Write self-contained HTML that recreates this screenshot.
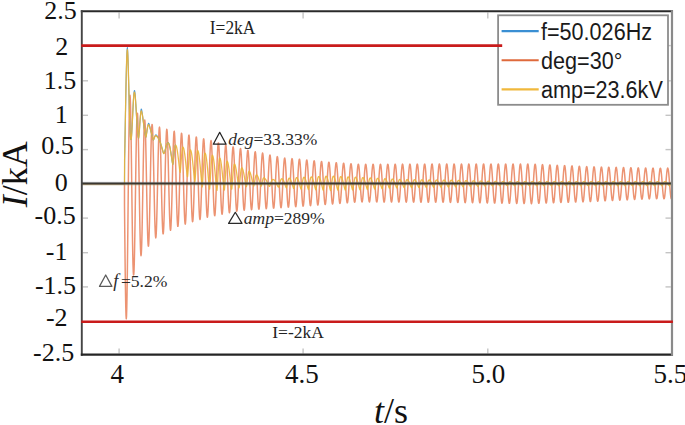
<!DOCTYPE html>
<html><head><meta charset="utf-8"><style>
html,body{margin:0;padding:0;background:#fff;}
body{width:685px;height:425px;overflow:hidden;}
svg{display:block;}
.serif{font-family:"Liberation Serif",serif;}
.sans{font-family:"Liberation Sans",sans-serif;}
</style></head><body>
<svg width="685" height="425" viewBox="0 0 685 425">
<rect width="685" height="425" fill="#fff"/>
<g stroke="#c4c4c4" stroke-width="1.4"><line x1="82.8" y1="45.6" x2="88" y2="45.6"/><line x1="665.5" y1="45.6" x2="670.8" y2="45.6"/><line x1="82.8" y1="80.8" x2="88" y2="80.8"/><line x1="665.5" y1="80.8" x2="670.8" y2="80.8"/><line x1="82.8" y1="115.3" x2="88" y2="115.3"/><line x1="665.5" y1="115.3" x2="670.8" y2="115.3"/><line x1="82.8" y1="149.6" x2="88" y2="149.6"/><line x1="665.5" y1="149.6" x2="670.8" y2="149.6"/><line x1="82.8" y1="183.6" x2="88" y2="183.6"/><line x1="665.5" y1="183.6" x2="670.8" y2="183.6"/><line x1="82.8" y1="218.1" x2="88" y2="218.1"/><line x1="665.5" y1="218.1" x2="670.8" y2="218.1"/><line x1="82.8" y1="252.7" x2="88" y2="252.7"/><line x1="665.5" y1="252.7" x2="670.8" y2="252.7"/><line x1="82.8" y1="286.9" x2="88" y2="286.9"/><line x1="665.5" y1="286.9" x2="670.8" y2="286.9"/><line x1="82.8" y1="321.7" x2="88" y2="321.7"/><line x1="665.5" y1="321.7" x2="670.8" y2="321.7"/><line x1="119.1" y1="348.6" x2="119.1" y2="353.6"/><line x1="119.1" y1="12.5" x2="119.1" y2="18.5"/><line x1="303.1" y1="348.6" x2="303.1" y2="353.6"/><line x1="303.1" y1="12.5" x2="303.1" y2="18.5"/><line x1="487.8" y1="348.6" x2="487.8" y2="353.6"/><line x1="487.8" y1="12.5" x2="487.8" y2="18.5"/></g>
<g fill="none" stroke-linejoin="round">
<path d="M82.50,183.65 L124.50,183.65 L124.50,205.29 L124.75,230.27 L125.00,253.84 L125.25,274.96 L125.50,292.70 L125.75,306.27 L126.00,315.10 L126.25,318.82 L126.50,316.36 L126.75,308.60 L127.00,296.18 L127.25,279.74 L127.50,260.05 L127.75,238.05 L128.00,214.74 L128.25,191.19 L128.50,168.43 L128.75,147.47 L129.00,129.19 L129.25,114.34 L129.50,103.52 L129.75,97.11 L130.00,95.29 L130.25,98.17 L130.50,105.36 L130.75,116.45 L131.00,130.81 L131.25,147.71 L131.50,166.32 L131.75,185.73 L132.00,205.02 L132.25,223.30 L132.50,239.76 L132.75,253.66 L133.00,264.41 L133.25,271.58 L133.50,274.92 L133.75,274.50 L134.00,270.90 L134.25,263.70 L134.50,253.26 L134.75,240.10 L135.00,224.87 L135.25,208.28 L135.50,191.10 L135.75,174.11 L136.00,158.08 L136.25,143.72 L136.50,131.65 L136.75,122.37 L137.00,116.26 L137.25,113.17 L137.50,113.53 L137.75,117.29 L138.00,124.21 L138.25,133.95 L138.50,146.01 L138.75,159.81 L139.00,174.71 L139.25,190.00 L139.50,204.98 L139.75,218.96 L140.00,231.32 L140.25,241.51 L140.50,249.09 L140.75,253.81 L141.00,255.69 L141.25,254.42 L141.50,250.07 L141.75,242.86 L142.00,233.15 L142.25,221.38 L142.50,208.11 L142.75,193.94 L143.00,179.52 L143.25,165.50 L143.50,152.52 L143.75,141.14 L144.00,131.87 L144.25,125.11 L144.50,121.13 L144.75,120.10 L145.00,121.96 L145.25,126.65 L145.50,133.96 L145.75,143.53 L146.00,154.92 L146.25,167.60 L146.50,180.97 L146.75,194.42 L147.00,207.35 L147.25,219.16 L147.50,229.33 L147.75,237.40 L148.00,243.04 L148.25,246.00 L148.50,246.15 L148.75,243.50 L149.00,238.20 L149.25,230.49 L149.50,220.74 L149.75,209.40 L150.00,197.00 L150.25,184.09 L150.50,171.26 L150.75,159.09 L151.00,148.11 L151.25,138.81 L151.50,131.60 L151.75,126.78 L152.00,124.53 L152.25,124.91 L152.50,127.91 L152.75,133.38 L153.00,141.05 L153.25,150.55 L153.50,161.44 L153.75,173.20 L154.00,185.30 L154.25,197.19 L154.50,208.31 L154.75,218.18 L155.00,226.35 L155.25,232.48 L155.50,236.42 L155.75,237.88 L156.00,236.80 L156.25,233.23 L156.50,227.35 L156.75,219.43 L157.00,209.84 L157.25,199.01 L157.50,187.44 L157.75,175.66 L158.00,164.20 L158.25,153.57 L158.50,144.25 L158.75,136.65 L159.00,131.12 L159.25,127.90 L159.50,127.10 L159.75,128.76 L160.00,132.79 L160.25,139.01 L160.50,147.13 L160.75,156.77 L161.00,167.48 L161.25,178.78 L161.50,190.16 L161.75,201.09 L162.00,211.08 L162.25,219.69 L162.50,226.52 L162.75,231.28 L163.00,233.75 L163.25,233.84 L163.50,231.53 L163.75,226.96 L164.00,220.33 L164.25,211.94 L164.50,202.19 L164.75,191.51 L165.00,180.40 L165.25,169.35 L165.50,158.87 L165.75,149.42 L166.00,141.43 L166.25,135.25 L166.50,131.15 L166.75,129.31 L167.00,129.79 L167.25,132.58 L167.50,137.53 L167.75,144.41 L168.00,152.90 L168.25,162.61 L168.50,173.09 L168.75,183.87 L169.00,194.45 L169.25,204.35 L169.50,213.14 L169.75,220.40 L170.00,225.83 L170.25,229.18 L170.50,230.31 L170.75,229.16 L171.00,225.81 L171.25,220.41 L171.50,213.21 L171.75,204.55 L172.00,194.81 L172.25,184.45 L172.50,173.93 L172.75,163.73 L173.00,154.30 L173.25,146.07 L173.50,139.41 L173.75,134.60 L174.00,131.87 L174.25,131.30 L174.50,132.94 L174.75,136.68 L175.00,142.36 L175.25,149.70 L175.50,158.38 L175.75,167.97 L176.00,178.06 L176.25,188.17 L176.50,197.86 L176.75,206.67 L177.00,214.23 L177.25,220.17 L177.50,224.26 L177.75,226.29 L178.00,226.20 L178.25,224.03 L178.50,219.85 L178.75,213.85 L179.00,206.31 L179.25,197.57 L179.50,188.02 L179.75,178.11 L180.00,168.29 L180.25,158.99 L180.50,150.64 L180.75,143.61 L181.00,138.21 L181.25,134.69 L181.50,133.19 L181.75,133.78 L182.00,136.43 L182.25,141.00 L182.50,147.29 L182.75,155.00 L183.00,163.78 L183.25,173.24 L183.50,182.93 L183.75,192.42 L184.00,201.28 L184.25,209.12 L184.50,215.58 L184.75,220.36 L185.00,223.27 L185.25,224.17 L185.50,223.04 L185.75,219.92 L186.00,214.96 L186.25,208.40 L186.50,200.53 L186.75,191.72 L187.00,182.37 L187.25,172.90 L187.50,163.74 L187.75,155.30 L188.00,147.97 L188.25,142.06 L188.50,137.85 L188.75,135.51 L189.00,135.15 L189.25,136.78 L189.50,140.31 L189.75,145.58 L190.00,152.35 L190.25,160.30 L190.50,169.07 L190.75,178.26 L191.00,187.45 L191.25,196.23 L191.50,204.20 L191.75,211.00 L192.00,216.33 L192.25,219.95 L192.50,221.71 L192.75,221.52 L193.00,219.41 L193.25,215.47 L193.50,209.89 L193.75,202.92 L194.00,194.89 L194.25,186.17 L194.50,177.14 L194.75,168.22 L195.00,159.80 L195.25,152.28 L195.50,145.99 L195.75,141.19 L196.00,138.12 L196.25,136.90 L196.50,137.58 L196.75,140.11 L197.00,144.39 L197.25,150.21 L197.50,157.30 L197.75,165.34 L198.00,173.96 L198.25,182.76 L198.50,191.35 L198.75,199.35 L199.00,206.38 L199.25,212.13 L199.50,216.35 L199.75,218.86 L200.00,219.54 L200.25,218.37 L200.50,215.40 L200.75,210.79 L201.00,204.73 L201.25,197.52 L201.50,189.48 L201.75,180.97 L202.00,172.39 L202.25,164.11 L202.50,156.52 L202.75,149.96 L203.00,144.71 L203.25,141.01 L203.50,139.03 L203.75,138.84 L204.00,140.44 L204.25,143.77 L204.50,148.65 L204.75,154.87 L205.00,162.13 L205.25,170.11 L205.50,178.44 L205.75,186.75 L206.00,194.64 L206.25,201.78 L206.50,207.84 L206.75,212.56 L207.00,215.74 L207.25,217.22 L207.50,216.94 L207.75,214.93 L208.00,211.27 L208.25,206.14 L208.50,199.77 L208.75,192.47 L209.00,184.55 L209.25,176.39 L209.50,168.35 L209.75,160.79 L210.00,154.06 L210.25,148.46 L210.50,144.23 L210.75,141.58 L211.00,140.60 L211.25,141.35 L211.50,143.78 L211.75,147.77 L212.00,153.15 L212.25,159.67 L212.50,167.02 L212.75,174.88 L213.00,182.88 L213.25,190.66 L213.50,197.87 L213.75,204.19 L214.00,209.34 L214.25,213.08 L214.50,215.25 L214.75,215.77 L215.00,214.60 L215.25,211.82 L215.50,207.56 L215.75,202.00 L216.00,195.41 L216.25,188.10 L216.50,180.38 L216.75,172.63 L217.00,165.17 L217.25,158.37 L217.50,152.51 L217.75,147.86 L218.00,144.63 L218.25,142.97 L218.50,142.93 L218.75,144.52 L219.00,147.66 L219.25,152.20 L219.50,157.94 L219.75,164.60 L220.00,171.89 L220.25,179.48 L220.50,187.01 L220.75,194.16 L221.00,200.60 L221.25,206.03 L221.50,210.23 L221.75,213.00 L222.00,214.22 L222.25,213.85 L222.50,211.91 L222.75,208.49 L223.00,203.75 L223.25,197.92 L223.50,191.25 L223.75,184.07 L224.00,176.68 L224.25,169.44 L224.50,162.66 L224.75,156.66 L225.00,151.69 L225.25,147.99 L225.50,145.71 L225.75,144.96 L226.00,145.76 L226.25,148.08 L226.50,151.79 L226.75,156.73 L227.00,162.68 L227.25,169.35 L227.50,176.44 L227.75,183.64 L228.00,190.62 L228.25,197.07 L228.50,202.69 L228.75,207.23 L229.00,210.50 L229.25,212.35 L229.50,212.70 L229.75,211.54 L230.00,208.93 L230.25,204.99 L230.50,199.90 L230.75,193.90 L231.00,187.27 L231.25,180.30 L231.50,173.31 L231.75,166.62 L232.00,160.54 L232.25,155.33 L232.50,151.22 L232.75,148.40 L233.00,147.00 L233.25,147.07 L233.50,148.60 L233.75,151.52 L234.00,155.69 L234.25,160.91 L234.50,166.96 L234.75,173.55 L235.00,180.39 L235.25,187.16 L235.50,193.56 L235.75,199.30 L236.00,204.12 L236.25,207.81 L236.50,210.21 L236.75,211.21 L237.00,210.76 L237.25,208.90 L237.50,205.72 L237.75,201.36 L238.00,196.02 L238.25,189.95 L238.50,183.43 L238.75,176.75 L239.00,170.21 L239.25,164.11 L239.50,158.73 L239.75,154.31 L240.00,151.04 L240.25,149.06 L240.50,148.47 L240.75,149.28 L241.00,151.46 L241.25,154.90 L241.50,159.46 L241.75,164.91 L242.00,171.01 L242.25,177.50 L242.50,184.06 L242.75,190.41 L243.00,196.25 L243.25,201.34 L243.50,205.43 L243.75,208.35 L244.00,209.96 L244.25,210.21 L244.50,209.09 L244.75,206.64 L245.00,202.98 L245.25,198.29 L245.50,192.78 L245.75,186.71 L246.00,180.34 L246.25,173.97 L246.50,167.89 L246.75,162.38 L247.00,157.68 L247.25,154.00 L247.50,151.52 L247.75,150.33 L248.00,150.49 L248.25,152.00 L248.50,154.78 L248.75,158.69 L249.00,163.58 L249.25,169.19 L249.50,175.29 L249.75,181.61 L250.00,187.85 L250.25,193.73 L250.50,198.99 L250.75,203.40 L251.00,206.75 L251.25,208.91 L251.50,209.76 L251.75,209.29 L252.00,207.51 L252.25,204.50 L252.50,200.42 L252.75,195.44 L253.00,189.80 L253.25,183.74 L253.50,177.56 L253.75,171.52 L254.00,165.91 L254.25,160.97 L254.50,156.93 L254.75,153.96 L255.00,152.22 L255.25,151.76 L255.50,152.61 L255.75,154.72 L256.00,158.01 L256.25,162.30 L256.50,167.43 L256.75,173.14 L257.00,179.18 L257.25,185.28 L257.50,191.17 L257.75,196.56 L258.00,201.24 L258.25,204.98 L258.50,207.61 L258.75,209.03 L259.00,209.17 L259.25,208.02 L259.50,205.65 L259.75,202.16 L260.00,197.72 L260.25,192.52 L260.50,186.81 L260.75,180.84 L261.00,174.89 L261.25,169.23 L261.50,164.11 L261.75,159.76 L262.00,156.39 L262.25,154.13 L262.50,153.10 L262.75,153.33 L263.00,154.81 L263.25,157.48 L263.50,161.21 L263.75,165.83 L264.00,171.13 L264.25,176.89 L264.50,182.82 L264.75,188.65 L265.00,194.13 L265.25,199.01 L265.50,203.07 L265.75,206.12 L266.00,208.05 L266.25,208.76 L266.50,208.22 L266.75,206.48 L267.00,203.60 L267.25,199.74 L267.50,195.06 L267.75,189.78 L268.00,184.15 L268.25,178.41 L268.50,172.84 L268.75,167.69 L269.00,163.18 L269.25,159.53 L269.50,156.89 L269.75,155.38 L270.00,155.07 L270.25,155.97 L270.50,158.04 L270.75,161.17 L271.00,165.23 L271.25,170.01 L271.50,175.32 L271.75,180.91 L272.00,186.54 L272.25,191.94 L272.50,196.88 L272.75,201.13 L273.00,204.51 L273.25,206.86 L273.50,208.08 L273.75,208.12 L274.00,206.98 L274.25,204.72 L274.50,201.44 L274.75,197.29 L275.00,192.47 L275.25,187.19 L275.50,181.70 L275.75,176.25 L276.00,171.08 L276.25,166.42 L276.50,162.49 L276.75,159.47 L277.00,157.48 L277.25,156.63 L277.50,156.93 L277.75,158.38 L278.00,160.92 L278.25,164.41 L278.50,168.71 L278.75,173.61 L279.00,178.90 L279.25,184.34 L279.50,189.67 L279.75,194.66 L280.00,199.09 L280.25,202.75 L280.50,205.48 L280.75,207.17 L281.00,207.74 L281.25,207.17 L281.50,205.48 L281.75,202.76 L282.00,199.14 L282.25,194.77 L282.50,189.87 L282.75,184.65 L283.00,179.36 L283.25,174.23 L283.50,169.49 L283.75,165.37 L284.00,162.04 L284.25,159.65 L284.50,158.32 L284.75,158.10 L285.00,158.99 L285.25,160.93 L285.50,163.85 L285.75,167.63 L286.00,172.08 L286.25,177.02 L286.50,182.21 L286.75,187.42 L287.00,192.41 L287.25,196.96 L287.50,200.86 L287.75,203.94 L288.00,206.06 L288.25,207.12 L288.50,207.07 L288.75,205.93 L289.00,203.74 L289.25,200.60 L289.50,196.67 L289.75,192.11 L290.00,187.13 L290.25,181.97 L290.50,176.85 L290.75,172.00 L291.00,167.65 L291.25,164.00 L291.50,161.19 L291.75,159.37 L292.00,158.62 L292.25,158.95 L292.50,160.37 L292.75,162.80 L293.00,166.13 L293.25,170.21 L293.50,174.85 L293.75,179.85 L294.00,184.97 L294.25,189.99 L294.50,194.67 L294.75,198.81 L295.00,202.21 L295.25,204.74 L295.50,206.26 L295.75,206.72 L296.00,206.10 L296.25,204.42 L296.50,201.76 L296.75,198.25 L297.00,194.05 L297.25,189.34 L297.50,184.34 L297.75,179.28 L298.00,174.38 L298.25,169.87 L298.50,165.96 L298.75,162.81 L299.00,160.57 L299.25,159.34 L299.50,159.17 L299.75,160.07 L300.00,162.00 L300.25,164.88 L300.50,168.56 L300.75,172.88 L301.00,177.64 L301.25,182.62 L301.50,187.60 L301.75,192.36 L302.00,196.68 L302.25,200.36 L302.50,203.23 L302.75,205.18 L303.00,206.12 L303.25,206.00 L303.50,204.83 L303.75,202.67 L304.00,199.62 L304.25,195.82 L304.50,191.43 L304.75,186.67 L305.00,181.75 L305.25,176.89 L305.50,172.31 L305.75,168.22 L306.00,164.80 L306.25,162.21 L306.50,160.56 L306.75,159.93 L307.00,160.34 L307.25,161.77 L307.50,164.15 L307.75,167.38 L308.00,171.31 L308.25,175.76 L308.50,180.52 L308.75,185.38 L309.00,190.12 L309.25,194.53 L309.50,198.41 L309.75,201.58 L310.00,203.91 L310.25,205.28 L310.50,205.64 L310.75,204.97 L311.00,203.31 L311.25,200.74 L311.50,197.37 L311.75,193.35 L312.00,188.88 L312.25,184.16 L312.50,179.39 L312.75,174.79 L313.00,170.58 L313.25,166.95 L313.50,164.05 L313.75,162.01 L314.00,160.94 L314.25,160.86 L314.50,161.80 L314.75,163.69 L315.00,166.46 L315.25,169.97 L315.50,174.07 L315.75,178.56 L316.00,183.26 L316.25,187.94 L316.50,192.39 L316.75,196.41 L317.00,199.82 L317.25,202.47 L317.50,204.24 L317.75,205.05 L318.00,204.86 L318.25,203.69 L318.50,201.59 L318.75,198.66 L319.00,195.03 L319.25,190.87 L319.50,186.37 L319.75,181.73 L320.00,177.16 L320.25,172.87 L320.50,169.05 L320.75,165.88 L321.00,163.49 L321.25,162.00 L321.50,161.47 L321.75,161.92 L322.00,163.33 L322.25,165.64 L322.50,168.73 L322.75,172.47 L323.00,176.69 L323.25,181.19 L323.50,185.77 L323.75,190.23 L324.00,194.35 L324.25,197.96 L324.50,200.90 L324.75,203.03 L325.00,204.25 L325.25,204.52 L325.50,203.82 L325.75,202.19 L326.00,199.70 L326.25,196.47 L326.50,192.65 L326.75,188.40 L327.00,183.93 L327.25,179.43 L327.50,175.11 L327.75,171.16 L328.00,167.77 L328.25,165.08 L328.50,163.22 L328.75,162.27 L329.00,162.27 L329.25,163.21 L329.50,165.06 L329.75,167.72 L330.00,171.08 L330.25,174.98 L330.50,179.25 L330.75,183.69 L331.00,188.10 L331.25,192.28 L331.50,196.04 L331.75,199.22 L332.00,201.66 L332.25,203.27 L332.50,203.97 L332.75,203.72 L333.00,202.55 L333.25,200.50 L333.50,197.68 L333.75,194.20 L334.00,190.23 L334.25,185.96 L334.50,181.56 L334.75,177.25 L335.00,173.21 L335.25,169.63 L335.50,166.68 L335.75,164.47 L336.00,163.12 L336.25,162.68 L336.50,163.17 L336.75,164.57 L337.00,166.80 L337.25,169.78 L337.50,173.35 L337.75,177.37 L338.00,181.64 L338.25,185.98 L338.50,190.18 L338.75,194.06 L339.00,197.44 L339.25,200.16 L339.50,202.12 L339.75,203.22 L340.00,203.40 L340.25,202.68 L340.50,201.07 L340.75,198.65 L341.00,195.54 L341.25,191.88 L341.50,187.83 L341.75,183.57 L342.00,179.31 L342.25,175.23 L342.50,171.51 L342.75,168.33 L343.00,165.83 L343.25,164.12 L343.50,163.28 L343.75,163.33 L344.00,164.29 L344.25,166.10 L344.50,168.68 L344.75,171.91 L345.00,175.64 L345.25,179.71 L345.50,183.93 L345.75,188.10 L346.00,192.05 L346.25,195.59 L346.50,198.55 L346.75,200.82 L347.00,202.28 L347.25,202.88 L347.50,202.58 L347.75,201.41 L348.00,199.41 L348.25,196.68 L348.50,193.34 L348.75,189.55 L349.00,185.47 L349.25,181.30 L349.50,177.22 L349.75,173.42 L350.00,170.07 L350.25,167.31 L350.50,165.28 L350.75,164.06 L351.00,163.70 L351.25,164.23 L351.50,165.61 L351.75,167.79 L352.00,170.66 L352.25,174.08 L352.50,177.91 L352.75,181.97 L353.00,186.08 L353.25,190.05 L353.50,193.70 L353.75,196.86 L354.00,199.40 L354.25,201.19 L354.50,202.17 L354.75,202.28 L355.00,201.53 L355.25,199.95 L355.50,197.61 L355.75,194.62 L356.00,191.11 L356.25,187.25 L356.50,183.22 L356.75,179.18 L357.00,175.34 L357.25,171.85 L357.50,168.88 L357.75,166.57 L358.00,165.00 L358.25,164.26 L358.50,164.38 L358.75,165.35 L359.00,167.12 L359.25,169.61 L359.50,172.70 L359.75,176.27 L360.00,180.14 L360.25,184.13 L360.50,188.09 L360.75,191.82 L361.00,195.15 L361.25,197.94 L361.50,200.07 L361.75,201.42 L362.00,201.95 L362.25,201.62 L362.50,200.46 L362.75,198.51 L363.00,195.86 L363.25,192.64 L363.50,188.98 L363.75,185.06 L364.00,181.06 L364.25,177.14 L364.50,173.50 L364.75,170.29 L365.00,167.67 L365.25,165.74 L365.50,164.60 L365.75,164.31 L366.00,164.86 L366.25,166.24 L366.50,168.39 L366.75,171.21 L367.00,174.56 L367.25,178.31 L367.50,182.27 L367.75,186.28 L368.00,190.14 L368.25,193.68 L368.50,196.75 L368.75,199.20 L369.00,200.92 L369.25,201.84 L369.50,201.91 L369.75,201.13 L370.00,199.53 L370.25,197.19 L370.50,194.21 L370.75,190.73 L371.00,186.91 L371.25,182.92 L371.50,178.93 L371.75,175.13 L372.00,171.70 L372.25,168.78 L372.50,166.51 L372.75,165.00 L373.00,164.31 L373.25,164.47 L373.50,165.47 L373.75,167.28 L374.00,169.80 L374.25,172.93 L374.50,176.52 L374.75,180.41 L375.00,184.43 L375.25,188.38 L375.50,192.10 L375.75,195.42 L376.00,198.17 L376.25,200.25 L376.50,201.55 L376.75,202.01 L377.00,201.63 L377.25,200.40 L377.50,198.39 L377.75,195.69 L378.00,192.42 L378.25,188.73 L378.50,184.78 L378.75,180.76 L379.00,176.85 L379.25,173.22 L379.50,170.04 L379.75,167.45 L380.00,165.57 L380.25,164.49 L380.50,164.25 L380.75,164.87 L381.00,166.32 L381.25,168.52 L381.50,171.39 L381.75,174.79 L382.00,178.57 L382.25,182.56 L382.50,186.57 L382.75,190.43 L383.00,193.96 L383.25,196.99 L383.50,199.40 L383.75,201.08 L384.00,201.94 L384.25,201.94 L384.50,201.10 L384.75,199.44 L385.00,197.04 L385.25,194.02 L385.50,190.49 L385.75,186.64 L386.00,182.62 L386.25,178.63 L386.50,174.84 L386.75,171.43 L387.00,168.55 L387.25,166.32 L387.50,164.86 L387.75,164.23 L388.00,164.45 L388.25,165.52 L388.50,167.38 L388.75,169.97 L389.00,173.14 L389.25,176.77 L389.50,180.69 L389.75,184.72 L390.00,188.68 L390.25,192.39 L390.50,195.68 L390.75,198.40 L391.00,200.43 L391.25,201.67 L391.50,202.08 L391.75,201.63 L392.00,200.34 L392.25,198.27 L392.50,195.51 L392.75,192.19 L393.00,188.47 L393.25,184.50 L393.50,180.47 L393.75,176.55 L394.00,172.94 L394.25,169.79 L394.50,167.24 L394.75,165.41 L395.00,164.38 L395.25,164.21 L395.50,164.89 L395.75,166.40 L396.00,168.66 L396.25,171.58 L396.50,175.03 L396.75,178.84 L397.00,182.85 L397.25,186.87 L397.50,190.72 L397.75,194.23 L398.00,197.24 L398.25,199.60 L398.50,201.23 L398.75,202.03 L399.00,201.97 L399.25,201.07 L399.50,199.35 L399.75,196.89 L400.00,193.81 L400.25,190.25 L400.50,186.36 L400.75,182.33 L401.00,178.33 L401.25,174.55 L401.50,171.16 L401.75,168.31 L402.00,166.13 L402.25,164.73 L402.50,164.15 L402.75,164.44 L403.00,165.57 L403.25,167.50 L403.50,170.13 L403.75,173.36 L404.00,177.03 L404.25,180.97 L404.50,185.02 L404.75,188.98 L405.00,192.67 L405.25,195.94 L405.50,198.62 L405.75,200.60 L406.00,201.79 L406.25,202.14 L406.50,201.62 L406.75,200.27 L407.00,198.14 L407.25,195.33 L407.50,191.97 L407.75,188.20 L408.00,184.21 L408.25,180.17 L408.50,176.26 L408.75,172.66 L409.00,169.54 L409.25,167.03 L409.50,165.25 L409.75,164.28 L410.00,164.16 L410.25,164.91 L410.50,166.48 L410.75,168.80 L411.00,171.78 L411.25,175.27 L411.50,179.11 L411.75,183.14 L412.00,187.17 L412.25,191.01 L412.50,194.50 L412.75,197.48 L413.00,199.80 L413.25,201.37 L413.50,202.12 L413.75,202.00 L414.00,201.03 L414.25,199.25 L414.50,196.73 L414.75,193.60 L415.00,190.00 L415.25,186.09 L415.50,182.04 L415.75,178.04 L416.00,174.27 L416.25,170.90 L416.50,168.08 L416.75,165.95 L417.00,164.59 L417.25,164.08 L417.50,164.43 L417.75,165.62 L418.00,167.61 L418.25,170.30 L418.50,173.58 L418.75,177.28 L419.00,181.26 L419.25,185.31 L419.50,189.27 L419.75,192.96 L420.00,196.19 L420.25,198.84 L420.50,200.77 L420.75,201.91 L421.00,202.19 L421.25,201.61 L421.50,200.20 L421.75,198.01 L422.00,195.15 L422.25,191.74 L422.50,187.94 L422.75,183.92 L423.00,179.87 L423.25,175.96 L423.50,172.38 L423.75,169.29 L424.00,166.82 L424.25,165.09 L424.50,164.18 L424.75,164.13 L425.00,164.93 L425.25,166.57 L425.50,168.95 L425.75,171.98 L426.00,175.51 L426.25,179.39 L426.50,183.43 L426.75,187.47 L427.00,191.31 L427.25,194.78 L427.50,197.72 L427.75,200.00 L428.00,201.52 L428.25,202.20 L428.50,202.02 L428.75,200.99 L429.00,199.14 L429.25,196.57 L429.50,193.39 L429.75,189.75 L430.00,185.81 L430.25,181.74 L430.50,177.74 L430.75,173.98 L431.00,170.63 L431.25,167.85 L431.50,165.77 L431.75,164.47 L432.00,164.01 L432.25,164.42 L432.50,165.68 L432.75,167.73 L433.00,170.48 L433.25,173.80 L433.50,177.55 L433.75,181.54 L434.00,185.61 L434.25,189.57 L434.50,193.24 L434.75,196.45 L435.00,199.06 L435.25,200.94 L435.50,202.02 L435.75,202.24 L436.00,201.60 L436.25,200.12 L436.50,197.87 L436.75,194.96 L437.00,191.50 L437.25,187.67 L437.50,183.63 L437.75,179.57 L438.00,175.67 L438.25,172.10 L438.50,169.04 L438.75,166.61 L439.00,164.94 L439.25,164.08 L439.50,164.09 L439.75,164.96 L440.00,166.66 L440.25,169.10 L440.50,172.18 L440.75,175.76 L441.00,179.67 L441.25,183.74 L441.50,187.78 L441.75,191.62 L442.00,195.07 L442.25,197.98 L442.50,200.22 L442.75,201.68 L443.00,202.31 L443.25,202.07 L443.50,200.98 L443.75,199.07 L444.00,196.45 L444.25,193.22 L444.50,189.53 L444.75,185.56 L445.00,181.48 L445.25,177.47 L445.50,173.72 L445.75,170.40 L446.00,167.66 L446.25,165.62 L446.50,164.37 L446.75,163.98 L447.00,164.45 L447.25,165.78 L447.50,167.89 L447.75,170.70 L448.00,174.08 L448.25,177.86 L448.50,181.90 L448.75,185.99 L449.00,189.95 L449.25,193.61 L449.50,196.80 L449.75,199.37 L450.00,201.21 L450.25,202.24 L450.50,202.41 L450.75,201.70 L451.00,200.16 L451.25,197.85 L451.50,194.87 L451.75,191.37 L452.00,187.50 L452.25,183.43 L452.50,179.35 L452.75,175.45 L453.00,171.90 L453.25,168.86 L453.50,166.48 L453.75,164.85 L454.00,164.05 L454.25,164.13 L454.50,165.07 L454.75,166.83 L455.00,169.34 L455.25,172.47 L455.50,176.10 L455.75,180.05 L456.00,184.15 L456.25,188.21 L456.50,192.04 L456.75,195.48 L457.00,198.36 L457.25,200.56 L457.50,201.98 L457.75,202.55 L458.00,202.25 L458.25,201.08 L458.50,199.11 L458.75,196.42 L459.00,193.14 L459.25,189.40 L459.50,185.39 L459.75,181.29 L460.00,177.27 L460.25,173.52 L460.50,170.22 L460.75,167.51 L461.00,165.51 L461.25,164.32 L461.50,163.98 L461.75,164.52 L462.00,165.92 L462.25,168.10 L462.50,170.97 L462.75,174.40 L463.00,178.23 L463.25,182.30 L463.50,186.41 L463.75,190.38 L464.00,194.03 L464.25,197.20 L464.50,199.74 L464.75,201.54 L465.00,202.51 L465.25,202.61 L465.50,201.84 L465.75,200.23 L466.00,197.85 L466.25,194.82 L466.50,191.26 L466.75,187.35 L467.00,183.25 L467.25,179.15 L467.50,175.25 L467.75,171.71 L468.00,168.70 L468.25,166.35 L468.50,164.77 L468.75,164.03 L469.00,164.17 L469.25,165.17 L469.50,167.00 L469.75,169.58 L470.00,172.77 L470.25,176.45 L470.50,180.44 L470.75,184.57 L471.00,188.64 L471.25,192.47 L471.50,195.89 L471.75,198.75 L472.00,200.91 L472.25,202.27 L472.50,202.78 L472.75,202.41 L473.00,201.18 L473.25,199.15 L473.50,196.39 L473.75,193.05 L474.00,189.27 L474.25,185.22 L474.50,181.09 L474.75,177.06 L475.00,173.32 L475.25,170.04 L475.50,167.36 L475.75,165.40 L476.00,164.26 L476.25,163.99 L476.50,164.60 L476.75,166.06 L477.00,168.31 L477.25,171.24 L477.50,174.73 L477.75,178.60 L478.00,182.70 L478.25,186.83 L478.50,190.81 L478.75,194.46 L479.00,197.60 L479.25,200.11 L479.50,201.85 L479.75,202.77 L480.00,202.81 L480.25,201.97 L480.50,200.29 L480.75,197.85 L481.00,194.75 L481.25,191.15 L481.50,187.19 L481.75,183.06 L482.00,178.95 L482.25,175.04 L482.50,171.52 L482.75,168.53 L483.00,166.22 L483.25,164.69 L483.50,164.01 L483.75,164.21 L484.00,165.29 L484.25,167.18 L484.50,169.82 L484.75,173.08 L485.00,176.80 L485.25,180.83 L485.50,184.99 L485.75,189.07 L486.00,192.90 L486.25,196.31 L486.50,199.13 L486.75,201.25 L487.00,202.56 L487.25,203.01 L487.50,202.58 L487.75,201.28 L488.00,199.17 L488.25,196.36 L488.50,192.96 L488.75,189.13 L489.00,185.05 L489.25,180.89 L489.50,176.86 L489.75,173.12 L490.00,169.86 L490.25,167.21 L490.50,165.30 L490.75,164.22 L491.00,164.01 L491.25,164.68 L491.50,166.21 L491.75,168.52 L492.00,171.52 L492.25,175.06 L492.50,178.98 L492.75,183.11 L493.00,187.26 L493.25,191.24 L493.50,194.88 L493.75,198.00 L494.00,200.47 L494.25,202.17 L494.50,203.03 L494.75,203.00 L495.00,202.10 L495.25,200.35 L495.50,197.84 L495.75,194.69 L496.00,191.03 L496.25,187.03 L496.50,182.87 L496.75,178.75 L497.00,174.84 L497.25,171.32 L497.50,168.36 L497.75,166.09 L498.00,164.61 L498.25,163.99 L498.50,164.26 L498.75,165.40 L499.00,167.37 L499.25,170.07 L499.50,173.38 L499.75,177.16 L500.00,181.23 L500.25,185.41 L500.50,189.50 L500.75,193.33 L501.00,196.72 L501.25,199.51 L501.50,201.59 L501.75,202.85 L502.00,203.24 L502.25,202.74 L502.50,201.37 L502.75,199.20 L503.00,196.32 L503.25,192.86 L503.50,188.99 L503.75,184.87 L504.00,180.69 L504.25,176.65 L504.50,172.92 L504.75,169.68 L505.00,167.06 L505.25,165.20 L505.50,164.17 L505.75,164.03 L506.00,164.77 L506.25,166.37 L506.50,168.75 L506.75,171.80 L507.00,175.39 L507.25,179.36 L507.50,183.52 L507.75,187.69 L508.00,191.68 L508.25,195.30 L508.50,198.40 L508.75,200.83 L509.00,202.48 L509.25,203.28 L509.50,203.19 L509.75,202.22 L510.00,200.40 L510.25,197.83 L510.50,194.61 L510.75,190.90 L511.00,186.86 L511.25,182.68 L511.50,178.54 L511.75,174.63 L512.00,171.13 L512.25,168.20 L512.50,165.97 L512.75,164.54 L513.00,163.98 L513.25,164.32 L513.50,165.53 L513.75,167.56 L514.00,170.33 L514.25,173.70 L514.50,177.52 L514.75,181.63 L515.00,185.83 L515.25,189.94 L515.50,193.76 L515.75,197.13 L516.00,199.90 L516.25,201.93 L516.50,203.13 L516.75,203.46 L517.00,202.89 L517.25,201.45 L517.50,199.21 L517.75,196.27 L518.00,192.76 L518.25,188.84 L518.50,184.69 L518.75,180.49 L519.00,176.44 L519.25,172.72 L519.50,169.50 L519.75,166.92 L520.00,165.10 L520.25,164.13 L520.50,164.05 L520.75,164.86 L521.00,166.53 L521.25,168.97 L521.50,172.09 L521.75,175.74 L522.00,179.75 L522.25,183.94 L522.50,188.13 L522.75,192.12 L523.00,195.73 L523.25,198.80 L523.50,201.19 L523.75,202.79 L524.00,203.53 L524.25,203.38 L524.50,202.33 L524.75,200.45 L525.00,197.81 L525.25,194.54 L525.50,190.77 L525.75,186.69 L526.00,182.48 L526.25,178.33 L526.50,174.42 L526.75,170.94 L527.00,168.04 L527.25,165.85 L527.50,164.48 L527.75,163.98 L528.00,164.38 L528.25,165.66 L528.50,167.76 L528.75,170.59 L529.00,174.02 L529.25,177.89 L529.50,182.04 L529.75,186.26 L530.00,190.38 L530.25,194.19 L530.50,197.53 L530.75,200.24 L531.00,202.21 L531.25,203.35 L531.50,203.60 L531.75,202.95 L532.00,201.44 L532.25,199.14 L532.50,196.14 L532.75,192.59 L533.00,188.65 L533.25,184.49 L533.50,180.31 L533.75,176.29 L534.00,172.62 L534.25,169.46 L534.50,166.96 L534.75,165.22 L535.00,164.33 L535.25,164.32 L535.50,165.20 L535.75,166.92 L536.00,169.41 L536.25,172.55 L536.50,176.19 L536.75,180.19 L537.00,184.34 L537.25,188.47 L537.50,192.38 L537.75,195.91 L538.00,198.88 L538.25,201.18 L538.50,202.68 L538.75,203.34 L539.00,203.11 L539.25,202.01 L539.50,200.09 L539.75,197.44 L540.00,194.18 L540.25,190.45 L540.50,186.44 L540.75,182.30 L541.00,178.25 L541.25,174.45 L541.50,171.09 L541.75,168.31 L542.00,166.24 L542.25,164.96 L542.50,164.55 L542.75,165.02 L543.00,166.33 L543.25,168.44 L543.50,171.25 L543.75,174.63 L544.00,178.43 L544.25,182.47 L544.50,186.57 L544.75,190.54 L545.00,194.21 L545.25,197.41 L545.50,200.00 L545.75,201.85 L546.00,202.89 L546.25,203.07 L546.50,202.38 L546.75,200.86 L547.00,198.57 L547.25,195.62 L547.50,192.15 L547.75,188.30 L548.00,184.26 L548.25,180.21 L548.50,176.33 L548.75,172.80 L549.00,169.78 L549.25,167.40 L549.50,165.78 L549.75,164.97 L550.00,165.03 L550.25,165.94 L550.50,167.67 L550.75,170.13 L551.00,173.21 L551.25,176.78 L551.50,180.67 L551.75,184.70 L552.00,188.69 L552.25,192.47 L552.50,195.85 L552.75,198.70 L553.00,200.87 L553.25,202.27 L553.50,202.84 L553.75,202.56 L554.00,201.44 L554.25,199.52 L554.50,196.90 L554.75,193.70 L555.00,190.07 L555.25,186.16 L555.50,182.15 L555.75,178.23 L556.00,174.58 L556.25,171.35 L556.50,168.70 L556.75,166.75 L557.00,165.57 L557.25,165.23 L557.50,165.74 L557.75,167.08 L558.00,169.18 L558.25,171.95 L558.50,175.26 L558.75,178.96 L559.00,182.88 L559.25,186.85 L559.50,190.69 L559.75,194.22 L560.00,197.28 L560.25,199.74 L560.50,201.48 L560.75,202.43 L561.00,202.55 L561.25,201.82 L561.50,200.29 L561.75,198.02 L562.00,195.12 L562.25,191.72 L562.50,187.97 L562.75,184.05 L563.00,180.13 L563.25,176.39 L563.50,173.00 L563.75,170.12 L564.00,167.86 L564.25,166.34 L564.50,165.62 L564.75,165.74 L565.00,166.68 L565.25,168.41 L565.50,170.84 L565.75,173.87 L566.00,177.35 L566.25,181.13 L566.50,185.04 L566.75,188.90 L567.00,192.54 L567.25,195.78 L567.50,198.49 L567.75,200.55 L568.00,201.85 L568.25,202.34 L568.50,202.01 L568.75,200.86 L569.00,198.96 L569.25,196.38 L569.50,193.24 L569.75,189.69 L570.00,185.89 L570.25,182.01 L570.50,178.23 L570.75,174.72 L571.00,171.63 L571.25,169.11 L571.50,167.27 L571.75,166.19 L572.00,165.92 L572.25,166.47 L572.50,167.82 L572.75,169.91 L573.00,172.63 L573.25,175.87 L573.50,179.47 L573.75,183.28 L574.00,187.12 L574.25,190.82 L574.50,194.21 L574.75,197.14 L575.00,199.47 L575.25,201.10 L575.50,201.96 L575.75,202.01 L576.00,201.25 L576.25,199.72 L576.50,197.47 L576.75,194.62 L577.00,191.30 L577.25,187.66 L577.50,183.86 L577.75,180.07 L578.00,176.47 L578.25,173.22 L578.50,170.47 L578.75,168.34 L579.00,166.92 L579.25,166.28 L579.50,166.45 L579.75,167.42 L580.00,169.14 L580.25,171.54 L580.50,174.51 L580.75,177.91 L581.00,181.58 L581.25,185.37 L581.50,189.09 L581.75,192.59 L582.00,195.69 L582.25,198.27 L582.50,200.21 L582.75,201.42 L583.00,201.84 L583.25,201.46 L583.50,200.29 L583.75,198.40 L584.00,195.86 L584.25,192.79 L584.50,189.34 L584.75,185.65 L585.00,181.90 L585.25,178.25 L585.50,174.88 L585.75,171.92 L586.00,169.53 L586.25,167.80 L586.50,166.81 L586.75,166.61 L587.00,167.20 L587.25,168.56 L587.50,170.62 L587.75,173.30 L588.00,176.46 L588.25,179.97 L588.50,183.66 L588.75,187.37 L589.00,190.93 L589.25,194.18 L589.50,196.98 L589.75,199.19 L590.00,200.71 L590.25,201.49 L590.50,201.48 L590.75,200.68 L591.00,199.14 L591.25,196.92 L591.50,194.12 L591.75,190.88 L592.00,187.33 L592.25,183.65 L592.50,179.99 L592.75,176.52 L593.00,173.40 L593.25,170.77 L593.50,168.74 L593.75,167.42 L594.00,166.85 L594.25,167.07 L594.50,168.05 L594.75,169.77 L595.00,172.13 L595.25,175.03 L595.50,178.34 L595.75,181.91 L596.00,185.57 L596.25,189.17 L596.50,192.53 L596.75,195.50 L597.00,197.95 L597.25,199.78 L597.50,200.89 L597.75,201.24 L598.00,200.81 L598.25,199.63 L598.50,197.74 L598.75,195.23 L599.00,192.22 L599.25,188.85 L599.50,185.26 L599.75,181.62 L600.00,178.10 L600.25,174.84 L600.50,172.01 L600.75,169.73 L601.00,168.09 L601.25,167.18 L601.50,167.04 L601.75,167.66 L602.00,169.03 L602.25,171.07 L602.50,173.70 L602.75,176.79 L603.00,180.21 L603.25,183.79 L603.50,187.38 L603.75,190.82 L604.00,193.94 L604.25,196.61 L604.50,198.71 L604.75,200.14 L605.00,200.84 L605.25,200.77 L605.50,199.94 L605.75,198.40 L606.00,196.20 L606.25,193.45 L606.50,190.27 L606.75,186.81 L607.00,183.23 L607.25,179.69 L607.50,176.34 L607.75,173.34 L608.00,170.83 L608.25,168.91 L608.50,167.67 L608.75,167.18 L609.00,167.44 L609.25,168.45 L609.50,170.17 L609.75,172.50 L610.00,175.35 L610.25,178.59 L610.50,182.06 L610.75,185.62 L611.00,189.09 L611.25,192.33 L611.50,195.18 L611.75,197.52 L612.00,199.25 L612.25,200.27 L612.50,200.56 L612.75,200.09 L613.00,198.89 L613.25,197.01 L613.50,194.54 L613.75,191.59 L614.00,188.29 L614.25,184.80 L614.50,181.27 L614.75,177.87 L615.00,174.74 L615.25,172.02 L615.50,169.85 L615.75,168.31 L616.00,167.48 L616.25,167.39 L616.50,168.05 L616.75,169.43 L617.00,171.45 L617.25,174.04 L617.50,177.07 L617.75,180.40 L618.00,183.88 L618.25,187.36 L618.50,190.68 L618.75,193.68 L619.00,196.23 L619.25,198.22 L619.50,199.56 L619.75,200.18 L620.00,200.06 L620.25,199.21 L620.50,197.66 L620.75,195.48 L621.00,192.78 L621.25,189.68 L621.50,186.31 L621.75,182.83 L622.00,179.41 L622.25,176.18 L622.50,173.30 L622.75,170.90 L623.00,169.09 L623.25,167.94 L623.50,167.51 L623.75,167.82 L624.00,168.85 L624.25,170.56 L624.50,172.86 L624.75,175.66 L625.00,178.82 L625.25,182.19 L625.50,185.64 L625.75,189.00 L626.00,192.12 L626.25,194.85 L626.50,197.08 L626.75,198.70 L627.00,199.65 L627.25,199.87 L627.50,199.36 L627.75,198.15 L628.00,196.28 L628.25,193.85 L628.50,190.96 L628.75,187.75 L629.00,184.36 L629.25,180.94 L629.50,177.65 L629.75,174.64 L630.00,172.05 L630.25,169.98 L630.50,168.54 L630.75,167.79 L631.00,167.75 L631.25,168.44 L631.50,169.82 L631.75,171.83 L632.00,174.37 L632.25,177.33 L632.50,180.57 L632.75,183.95 L633.00,187.32 L633.25,190.52 L633.50,193.40 L633.75,195.84 L634.00,197.72 L634.25,198.97 L634.50,199.52 L634.75,199.35 L635.00,198.48 L635.25,196.93 L635.50,194.78 L635.75,192.13 L636.00,189.10 L636.25,185.82 L636.50,182.45 L636.75,179.14 L637.00,176.03 L637.25,173.27 L637.50,170.99 L637.75,169.27 L638.00,168.21 L638.25,167.85 L638.50,168.20 L638.75,169.25 L639.00,170.95 L639.25,173.21 L639.50,175.95 L639.75,179.03 L640.00,182.31 L640.25,185.65 L640.50,188.89 L640.75,191.89 L641.00,194.51 L641.25,196.63 L641.50,198.15 L641.75,199.02 L642.00,199.18 L642.25,198.64 L642.50,197.42 L642.75,195.56 L643.00,193.17 L643.25,190.35 L643.50,187.22 L643.75,183.93 L644.00,180.62 L644.25,177.45 L644.50,174.56 L644.75,172.08 L645.00,170.13 L645.25,168.78 L645.50,168.10 L645.75,168.12 L646.00,168.83 L646.25,170.22 L646.50,172.20 L646.75,174.69 L647.00,177.58 L647.25,180.74 L647.50,184.01 L647.75,187.26 L648.00,190.34 L648.25,193.10 L648.50,195.43 L648.75,197.21 L649.00,198.37 L649.25,198.86 L649.50,198.64 L649.75,197.74 L650.00,196.20 L650.25,194.09 L650.50,191.50 L650.75,188.55 L651.00,185.37 L651.25,182.10 L651.50,178.89 L651.75,175.89 L652.00,173.24 L652.25,171.05 L652.50,169.42 L652.75,168.43 L653.00,168.12 L653.25,168.51 L653.50,169.57 L653.75,171.27 L654.00,173.51 L654.25,176.21 L654.50,179.24 L654.75,182.46 L655.00,185.73 L655.25,188.89 L655.50,191.81 L655.75,194.35 L656.00,196.40 L656.25,197.87 L656.50,198.68 L656.75,198.80 L657.00,198.23 L657.25,196.99 L657.50,195.14 L657.75,192.76 L658.00,189.96 L658.25,186.86 L658.50,183.61 L658.75,180.36 L659.00,177.25 L659.25,174.42 L659.50,172.00 L659.75,170.10 L660.00,168.81 L660.25,168.18 L660.50,168.24 L660.75,168.99 L661.00,170.41 L661.25,172.41 L661.50,174.91 L661.75,177.80 L662.00,180.95 L662.25,184.22 L662.50,187.45 L662.75,190.50 L663.00,193.23 L663.25,195.52 L663.50,197.26 L663.75,198.38 L664.00,198.83 L664.25,198.58 L664.50,197.64 L664.75,196.07 L665.00,193.92 L665.25,191.30 L665.50,188.33 L665.75,185.13 L666.00,181.86 L666.25,178.67 L666.50,175.69 L666.75,173.06 L667.00,170.91 L667.25,169.33 L667.50,168.38 L667.75,168.12 L668.00,168.56 L668.25,169.67 L668.50,171.41 L668.75,173.69 L669.00,176.42 L669.25,179.47 L669.50,182.70 L669.75,185.96 L670.00,189.11 L670.25,192.01 L670.50,194.52 L670.75,196.53 L671.00,197.95 L671.25,198.71 L671.50,198.78 L671.75,198.16 L672.00,196.87" stroke="#ec9372" stroke-width="1.5"/>
<path d="M82.50,183.65 L124.50,183.65 L124.60,160.17 L124.80,150.42 L125.00,139.85 L125.20,128.77 L125.40,117.49 L125.60,106.33 L125.80,95.58 L126.00,85.50 L126.20,76.58 L126.40,68.57 L126.60,61.59 L126.80,55.81 L127.00,51.40 L127.20,48.62 L127.40,47.66 L127.60,49.80 L127.80,53.67 L128.00,58.92 L128.20,65.19 L128.40,72.19 L128.60,79.69 L128.80,87.51 L129.00,95.44 L129.20,103.25 L129.40,110.72 L129.60,117.64 L129.80,123.82 L130.00,129.11 L130.20,133.29 L130.40,136.43 L130.60,138.49 L130.80,139.48 L131.00,139.42 L131.20,139.06 L131.40,137.63 L131.60,135.31 L131.80,132.24 L132.00,128.57 L132.20,124.74 L132.40,120.63 L132.60,116.38 L132.80,112.12 L133.00,107.99 L133.20,104.13 L133.40,100.62 L133.60,97.56 L133.80,94.97 L134.00,92.89 L134.20,91.37 L134.40,90.57 L134.60,90.69 L134.80,91.54 L135.00,93.01 L135.20,95.20 L135.40,97.88 L135.60,100.84 L135.80,103.96 L136.00,107.21 L136.20,110.53 L136.40,113.88 L136.60,117.20 L136.80,120.43 L137.00,123.51 L137.20,126.40 L137.40,129.04 L137.60,131.40 L137.80,133.46 L138.00,135.19 L138.20,136.57 L138.40,137.58 L138.60,138.03 L138.80,136.92 L139.00,135.11 L139.20,132.81 L139.40,130.14 L139.60,127.25 L139.80,124.26 L140.00,121.31 L140.20,118.52 L140.40,115.99 L140.60,113.75 L140.80,111.79 L141.00,110.17 L141.20,109.15 L141.40,109.10 L141.60,109.66 L141.80,110.57 L142.00,111.74 L142.20,113.10 L142.40,114.55 L142.60,116.05 L142.80,117.56 L143.00,119.07 L143.20,120.59 L143.40,122.11 L143.60,123.62 L143.80,125.13 L144.00,126.61 L144.20,128.06 L144.40,129.45 L144.60,130.78 L144.80,132.02 L145.00,133.18 L145.20,134.24 L145.40,135.18 L145.60,135.98 L145.80,136.63 L146.00,136.99 L146.20,136.09 L146.40,134.89 L146.60,133.51 L146.80,132.06 L147.00,130.62 L147.20,129.24 L147.40,127.97 L147.60,126.86 L147.80,125.88 L148.00,125.01 L148.20,124.23 L148.40,123.59 L148.60,123.25 L148.80,123.37 L149.00,123.78 L149.20,124.37 L149.40,125.08 L149.60,125.88 L149.80,126.71 L150.00,127.55 L150.20,128.38 L150.40,129.19 L150.60,129.98 L150.80,130.75 L151.00,131.52 L151.20,132.28 L151.40,133.02 L151.60,133.79 L151.80,134.59 L152.00,135.39 L152.20,136.17 L152.40,136.92 L152.60,137.65 L152.80,138.33 L153.00,138.97 L153.20,139.53 L153.40,139.95 L153.60,139.66 L153.80,139.20 L154.00,138.67 L154.20,138.11 L154.40,137.57 L154.60,137.05 L154.80,136.59 L155.00,136.19 L155.20,135.83 L155.40,135.49 L155.60,135.16 L155.80,134.89 L156.00,134.77 L156.20,134.93 L156.40,135.08 L156.60,135.28 L156.80,135.51 L157.00,135.78 L157.20,136.08 L157.40,136.40 L157.60,136.73 L157.80,137.08 L158.00,137.43 L158.20,137.79 L158.40,138.15 L158.60,138.53 L158.80,138.93 L159.00,139.34 L159.20,139.77 L159.40,140.22 L159.60,140.70 L159.80,141.19 L160.00,141.71 L160.20,142.25 L160.40,142.81 L160.60,143.40 L160.80,144.01 L161.00,144.64 L161.20,145.29 L161.40,145.95 L161.60,146.64 L161.80,147.33 L162.00,148.04 L162.20,148.75 L162.40,149.47 L162.60,150.19 L162.80,150.90 L163.00,151.61 L163.20,152.29 L163.40,152.94 L163.60,153.52 L163.80,153.57 L164.00,153.31 L164.20,152.92 L164.40,152.44 L164.60,151.89 L164.80,151.28 L165.00,150.62 L165.20,149.93 L165.40,149.22 L165.60,148.47 L165.80,147.70 L166.00,146.96 L166.20,146.25 L166.40,145.58 L166.60,144.96 L166.80,144.39 L167.00,143.88 L167.20,143.44 L167.40,143.08 L167.60,142.81 L167.80,142.65 L168.00,142.59 L168.20,142.66 L168.40,142.79 L168.60,143.05 L168.80,143.41 L169.00,143.89 L169.20,144.46 L169.40,145.13 L169.60,145.89 L169.80,146.75 L170.00,147.69 L170.20,148.71 L170.40,149.81 L170.60,150.98 L170.80,152.22 L171.00,153.51 L171.20,154.84 L171.40,156.19 L171.60,157.56 L171.80,158.92 L172.00,160.26 L172.20,161.55 L172.40,162.76 L172.60,163.83 L172.80,164.43 L173.00,163.33 L173.20,161.76 L173.40,159.96 L173.60,158.02 L173.80,156.02 L174.00,154.04 L174.20,152.14 L174.40,150.36 L174.60,148.78 L174.80,147.43 L175.00,146.36 L175.20,145.60 L175.40,145.17 L175.60,145.10 L175.80,145.25" stroke="#4a98d6" stroke-width="1.1"/>
<path d="M82.50,183.65 L124.50,183.65 L124.60,160.17 L124.80,150.42 L125.00,139.85 L125.20,128.77 L125.40,117.49 L125.60,106.33 L125.80,95.58 L126.00,85.52 L126.20,76.66 L126.40,68.78 L126.60,62.09 L126.80,56.74 L127.00,52.86 L127.20,50.51 L127.40,49.73 L127.60,51.70 L127.80,55.12 L128.00,59.84 L128.20,65.68 L128.40,72.40 L128.60,79.76 L128.80,87.53 L129.00,95.44 L129.20,103.25 L129.40,110.72 L129.60,117.64 L129.80,123.82 L130.00,129.11 L130.20,133.29 L130.40,136.43 L130.60,138.49 L130.80,139.48 L131.00,139.42 L131.20,139.06 L131.40,137.63 L131.60,135.31 L131.80,132.24 L132.00,128.57 L132.20,124.74 L132.40,120.63 L132.60,116.38 L132.80,112.12 L133.00,108.00 L133.20,104.14 L133.40,100.66 L133.60,97.68 L133.80,95.29 L134.00,93.55 L134.20,92.53 L134.40,92.25 L134.60,92.71 L134.80,93.57 L135.00,94.72 L135.20,96.44 L135.40,98.63 L135.60,101.22 L135.80,104.13 L136.00,107.27 L136.20,110.55 L136.40,113.88 L136.60,117.20 L136.80,120.43 L137.00,123.51 L137.20,126.40 L137.40,129.04 L137.60,131.40 L137.80,133.46 L138.00,135.19 L138.20,136.57 L138.40,137.58 L138.60,138.03 L138.80,136.92 L139.00,135.11 L139.20,132.81 L139.40,130.14 L139.60,127.25 L139.80,124.26 L140.00,121.31 L140.20,118.53 L140.40,116.05 L140.60,113.96 L140.80,112.38 L141.00,111.36 L141.20,110.95 L141.40,111.17 L141.60,111.64 L141.80,112.30 L142.00,113.12 L142.20,114.10 L142.40,115.22 L142.60,116.45 L142.80,117.78 L143.00,119.18 L143.20,120.64 L143.40,122.13 L143.60,123.63 L143.80,125.13 L144.00,126.61 L144.20,128.06 L144.40,129.45 L144.60,130.78 L144.80,132.02 L145.00,133.18 L145.20,134.24 L145.40,135.18 L145.60,135.98 L145.80,136.63 L146.00,136.99 L146.20,136.09 L146.40,134.89 L146.60,133.51 L146.80,132.06 L147.00,130.62 L147.20,129.24 L147.40,127.98 L147.60,126.89 L147.80,125.99 L148.00,125.31 L148.20,124.87 L148.40,124.67 L148.60,124.71 L148.80,124.97 L149.00,125.31 L149.20,125.72 L149.40,126.20 L149.60,126.73 L149.80,127.31 L150.00,127.94 L150.20,128.61 L150.40,129.31 L150.60,130.04 L150.80,130.78 L151.00,131.53 L151.20,132.28 L151.40,133.02 L151.60,133.79 L151.80,134.59 L152.00,135.39 L152.20,136.17 L152.40,136.92 L152.60,137.65 L152.80,138.33 L153.00,138.97 L153.20,139.53 L153.40,139.95 L153.60,139.66 L153.80,139.20 L154.00,138.67 L154.20,138.11 L154.40,137.57 L154.60,137.05 L154.80,136.60 L155.00,136.21 L155.20,135.92 L155.40,135.72 L155.60,135.63 L155.80,135.64 L156.00,135.78 L156.20,136.02 L156.40,136.14 L156.60,136.28 L156.80,136.44 L157.00,136.61 L157.20,136.80 L157.40,137.01 L157.60,137.23 L157.80,137.48 L158.00,137.74 L158.20,138.02 L158.40,138.32 L158.60,138.64 L158.80,139.00 L159.00,139.39 L159.20,139.80 L159.40,140.24 L159.60,140.71 L159.80,141.20 L160.00,141.71 L160.20,142.25 L160.40,142.81 L160.60,143.40 L160.80,144.01 L161.00,144.64 L161.20,145.29 L161.40,145.95 L161.60,146.64 L161.80,147.33 L162.00,148.04 L162.20,148.75 L162.40,149.47 L162.60,150.19 L162.80,150.90 L163.00,151.61 L163.20,152.29 L163.40,152.94 L163.60,153.52 L163.80,153.57 L164.00,153.31 L164.20,152.92 L164.40,152.44 L164.60,151.89 L164.80,151.28 L165.00,150.62 L165.20,149.93 L165.40,149.22 L165.60,148.47 L165.80,147.70 L166.00,146.96 L166.20,146.26 L166.40,145.60 L166.60,144.99 L166.80,144.45 L167.00,143.97 L167.20,143.57 L167.40,143.26 L167.60,143.03 L167.80,142.90 L168.00,142.86 L168.20,142.92 L168.40,143.03 L168.60,143.25 L168.80,143.57 L169.00,144.00 L169.20,144.54 L169.40,145.18 L169.60,145.92 L169.80,146.76 L170.00,147.69 L170.20,148.71 L170.40,149.81 L170.60,150.99 L170.80,152.22 L171.00,153.51 L171.20,154.84 L171.40,156.19 L171.60,157.56 L171.80,158.92 L172.00,160.26 L172.20,161.55 L172.40,162.76 L172.60,163.83 L172.80,164.43 L173.00,163.33 L173.20,161.76 L173.40,159.96 L173.60,158.02 L173.80,156.02 L174.00,154.04 L174.20,152.14 L174.40,150.36 L174.60,148.78 L174.80,147.43 L175.00,146.36 L175.20,145.60 L175.40,145.17 L175.60,145.10 L175.80,145.25 L176.00,145.54 L176.20,145.97 L176.40,146.54 L176.60,147.26 L176.80,148.11 L177.00,149.10 L177.20,150.21 L177.40,151.44 L177.60,152.78 L177.80,154.23 L178.00,155.76 L178.20,157.37 L178.40,159.05 L178.60,160.77 L178.80,162.51 L179.00,164.27 L179.20,166.01 L179.40,167.72 L179.60,169.35 L179.80,170.76 L180.00,171.96 L180.20,172.19 L180.40,170.46 L180.60,168.25 L180.80,165.78 L181.00,163.19 L181.20,160.57 L181.40,158.00 L181.60,155.57 L181.80,153.35 L182.00,151.39 L182.20,149.75 L182.40,148.47 L182.60,147.59 L182.80,147.13 L183.00,147.11 L183.20,147.33 L183.40,147.71 L183.60,148.26 L183.80,148.96 L184.00,149.83 L184.20,150.84 L184.40,152.00 L184.60,153.29 L184.80,154.71 L185.00,156.23 L185.20,157.85 L185.40,159.56 L185.60,161.33 L185.80,163.15 L186.00,165.00 L186.20,166.86 L186.40,168.71 L186.60,170.53 L186.80,172.27 L187.00,173.92 L187.20,175.41 L187.40,176.65 L187.60,176.45 L187.80,174.46 L188.00,172.01 L188.20,169.32 L188.40,166.51 L188.60,163.70 L188.80,160.98 L189.00,158.41 L189.20,156.08 L189.40,154.05 L189.60,152.37 L189.80,151.09 L190.00,150.24 L190.20,149.84 L190.40,149.86 L190.60,150.06 L190.80,150.44 L191.00,150.99 L191.20,151.73 L191.40,152.63 L191.60,153.69 L191.80,154.92 L192.00,156.29 L192.20,157.79 L192.40,159.42 L192.60,161.16 L192.80,162.99 L193.00,164.90 L193.20,166.87 L193.40,168.87 L193.60,170.89 L193.80,172.91 L194.00,174.89 L194.20,176.80 L194.40,178.60 L194.60,180.22 L194.80,181.53 L195.00,180.80 L195.20,178.46 L195.40,175.65 L195.60,172.58 L195.80,169.39 L196.00,166.20 L196.20,163.11 L196.40,160.20 L196.60,157.56 L196.80,155.26 L197.00,153.35 L197.20,151.91 L197.40,150.96 L197.60,150.53 L197.80,150.60 L198.00,150.91 L198.20,151.43 L198.40,152.16 L198.60,153.07 L198.80,154.18 L199.00,155.47 L199.20,156.94 L199.40,158.56 L199.60,160.34 L199.80,162.24 L200.00,164.26 L200.20,166.38 L200.40,168.57 L200.60,170.82 L200.80,173.10 L201.00,175.38 L201.20,177.65 L201.40,179.85 L201.60,181.96 L201.80,183.89 L202.00,185.55 L202.20,186.81 L202.40,185.34 L202.60,182.58 L202.80,179.38 L203.00,175.96 L203.20,172.47 L203.40,169.02 L203.60,165.72 L203.80,162.67 L204.00,159.93 L204.20,157.59 L204.40,155.71 L204.60,154.32 L204.80,153.47 L205.00,153.17 L205.20,153.32 L205.40,153.67 L205.60,154.22 L205.80,154.98 L206.00,155.93 L206.20,157.08 L206.40,158.40 L206.60,159.89 L206.80,161.54 L207.00,163.33 L207.20,165.25 L207.40,167.27 L207.60,169.37 L207.80,171.54 L208.00,173.76 L208.20,175.99 L208.40,178.21 L208.60,180.40 L208.80,182.52 L209.00,184.52 L209.20,186.36 L209.40,187.94 L209.60,189.02 L209.80,187.03 L210.00,184.18 L210.20,180.94 L210.40,177.51 L210.60,174.02 L210.80,170.60 L211.00,167.34 L211.20,164.33 L211.40,161.66 L211.60,159.39 L211.80,157.58 L212.00,156.27 L212.20,155.50 L212.40,155.29 L212.60,155.46 L212.80,155.85 L213.00,156.45 L213.20,157.26 L213.40,158.25 L213.60,159.44 L213.80,160.79 L214.00,162.31 L214.20,163.98 L214.40,165.78 L214.60,167.70 L214.80,169.71 L215.00,171.80 L215.20,173.95 L215.40,176.13 L215.60,178.32 L215.80,180.50 L216.00,182.63 L216.20,184.68 L216.40,186.59 L216.60,188.31 L216.80,189.76 L217.00,190.33 L217.20,188.13 L217.40,185.25 L217.60,182.04 L217.80,178.69 L218.00,175.32 L218.20,172.04 L218.40,168.94 L218.60,166.12 L218.80,163.63 L219.00,161.55 L219.20,159.93 L219.40,158.79 L219.60,158.17 L219.80,158.07 L220.00,158.29 L220.20,158.71 L220.40,159.32 L220.60,160.12 L220.80,161.09 L221.00,162.24 L221.20,163.54 L221.40,164.98 L221.60,166.56 L221.80,168.25 L222.00,170.04 L222.20,171.91 L222.40,173.84 L222.60,175.82 L222.80,177.81 L223.00,179.81 L223.20,181.77 L223.40,183.68 L223.60,185.51 L223.80,187.20 L224.00,188.71 L224.20,189.95 L224.40,189.99 L224.60,187.82 L224.80,185.13 L225.00,182.18 L225.20,179.13 L225.40,176.09 L225.60,173.15 L225.80,170.41 L226.00,167.92 L226.20,165.76 L226.40,163.97 L226.60,162.60 L226.80,161.68 L227.00,161.23 L227.20,161.23 L227.40,161.46 L227.60,161.86 L227.80,162.44 L228.00,163.17 L228.20,164.07 L228.40,165.10 L228.60,166.28 L228.80,167.57 L229.00,168.98 L229.20,170.48 L229.40,172.06 L229.60,173.71 L229.80,175.41 L230.00,177.14 L230.20,178.88 L230.40,180.60 L230.60,182.30 L230.80,183.95 L231.00,185.50 L231.20,186.93 L231.40,188.20 L231.60,189.21 L231.80,188.81 L232.00,186.80 L232.20,184.40 L232.40,181.81 L232.60,179.15 L232.80,176.52 L233.00,174.00 L233.20,171.66 L233.40,169.55 L233.60,167.74 L233.80,166.27 L234.00,165.16 L234.20,164.44 L234.40,164.12 L234.60,164.19 L234.80,164.44 L235.00,164.84 L235.20,165.39 L235.40,166.07 L235.60,166.88 L235.80,167.80 L236.00,168.84 L236.20,169.97 L236.40,171.19 L236.60,172.48 L236.80,173.84 L237.00,175.24 L237.20,176.67 L237.40,178.11 L237.60,179.56 L237.80,180.99 L238.00,182.38 L238.20,183.72 L238.40,184.98 L238.60,186.14 L238.80,187.15 L239.00,187.92 L239.20,187.24 L239.40,185.53 L239.60,183.54 L239.80,181.43 L240.00,179.28 L240.20,177.18 L240.40,175.18 L240.60,173.35 L240.80,171.72 L241.00,170.34 L241.20,169.23 L241.40,168.43 L241.60,167.95 L241.80,167.79 L242.00,167.90 L242.20,168.14 L242.40,168.49 L242.60,168.95 L242.80,169.52 L243.00,170.19 L243.20,170.95 L243.40,171.80 L243.60,172.71 L243.80,173.69 L244.00,174.73 L244.20,175.81 L244.40,176.92 L244.60,178.05 L244.80,179.19 L245.00,180.32 L245.20,181.44 L245.40,182.52 L245.60,183.55 L245.80,184.52 L246.00,185.39 L246.20,186.14 L246.40,186.70 L246.60,185.91 L246.80,184.55 L247.00,182.99 L247.20,181.36 L247.40,179.72 L247.60,178.11 L247.80,176.60 L248.00,175.23 L248.20,174.02 L248.40,173.00 L248.60,172.21 L248.80,171.65 L249.00,171.34 L249.20,171.28 L249.40,171.41 L249.60,171.63 L249.80,171.94 L250.00,172.33 L250.20,172.80 L250.40,173.35 L250.60,173.96 L250.80,174.64 L251.00,175.37 L251.20,176.14 L251.40,176.95 L251.60,177.79 L251.80,178.65 L252.00,179.52 L252.20,180.39 L252.40,181.26 L252.60,182.11 L252.80,182.92 L253.00,183.70 L253.20,184.42 L253.40,185.07 L253.60,185.63 L253.80,186.00 L254.00,185.26 L254.20,184.23 L254.40,183.08 L254.60,181.88 L254.80,180.69 L255.00,179.53 L255.20,178.45 L255.40,177.47 L255.60,176.62 L255.80,175.93 L256.00,175.39 L256.20,175.04 L256.40,174.86 L256.60,174.88 L256.80,175.01 L257.00,175.20 L257.20,175.45 L257.40,175.76 L257.60,176.13 L257.80,176.55 L258.00,177.02 L258.20,177.54 L258.40,178.10 L258.60,178.69 L258.80,179.31 L259.00,179.96 L259.20,180.61 L259.40,181.28 L259.60,181.95 L259.80,182.62 L260.00,183.27 L260.20,183.90 L260.40,184.49 L260.60,185.05 L260.80,185.55 L261.00,185.97 L261.20,186.12 L261.40,185.50 L261.60,184.70 L261.80,183.83 L262.00,182.92 L262.20,182.02 L262.40,181.16 L262.60,180.36 L262.80,179.64 L263.00,179.03 L263.20,178.53 L263.40,178.15 L263.60,177.91 L263.80,177.81 L264.00,177.85 L264.20,177.95 L264.40,178.09 L264.60,178.26 L264.80,178.44 L265.00,178.62 L265.20,178.83 L265.40,179.07 L265.60,179.34 L265.80,179.63 L266.00,179.95 L266.20,180.28 L266.40,180.64 L266.60,181.01 L266.80,181.39 L267.00,181.79 L267.20,182.19 L267.40,182.60 L267.60,183.01 L267.80,183.43 L268.00,183.84 L268.20,184.24 L268.40,184.63 L268.60,185.01 L268.80,185.37 L269.00,185.70 L269.20,186.00 L269.40,186.26 L269.60,186.37 L269.80,186.00 L270.00,185.51 L270.20,184.97 L270.40,184.40 L270.60,183.81 L270.80,183.21 L271.00,182.63 L271.20,182.08 L271.40,181.55 L271.60,181.07 L271.80,180.64 L272.00,180.27 L272.20,179.96 L272.40,179.73 L272.60,179.57 L272.80,179.48 L273.00,179.48 L273.20,179.52 L273.40,179.55 L273.60,179.61 L273.80,179.71 L274.00,179.83 L274.20,179.98 L274.40,180.17 L274.60,180.38 L274.80,180.62 L275.00,180.89 L275.20,181.18 L275.40,181.50 L275.60,181.84 L275.80,182.20 L276.00,182.57 L276.20,182.96 L276.40,183.36 L276.60,183.77 L276.80,184.19 L277.00,184.61 L277.20,185.02 L277.40,185.44 L277.60,185.84 L277.80,186.22 L278.00,186.57 L278.20,186.89 L278.40,187.15 L278.60,186.96 L278.80,186.46 L279.00,185.86 L279.20,185.21 L279.40,184.51 L279.60,183.80 L279.80,183.09 L280.00,182.40 L280.20,181.73 L280.40,181.11 L280.60,180.54 L280.80,180.04 L281.00,179.61 L281.20,179.26 L281.40,179.00 L281.60,178.84 L281.80,178.77 L282.00,178.79 L282.20,178.85 L282.40,178.97 L282.60,179.15 L282.80,179.37 L283.00,179.65 L283.20,179.97 L283.40,180.34 L283.60,180.75 L283.80,181.21 L284.00,181.69 L284.20,182.21 L284.40,182.76 L284.60,183.32 L284.80,183.90 L285.00,184.49 L285.20,185.07 L285.40,185.65 L285.60,186.22 L285.80,186.75 L286.00,187.25 L286.20,187.67 L286.40,187.87 L286.60,187.27 L286.80,186.46 L287.00,185.55 L287.20,184.58 L287.40,183.60 L287.60,182.63 L287.80,181.71 L288.00,180.85 L288.20,180.09 L288.40,179.43 L288.60,178.91 L288.80,178.53 L289.00,178.30 L289.20,178.23 L289.40,178.26 L289.60,178.35 L289.80,178.49 L290.00,178.70 L290.20,178.97 L290.40,179.30 L290.60,179.68 L290.80,180.11 L291.00,180.58 L291.20,181.11 L291.40,181.66 L291.60,182.26 L291.80,182.88 L292.00,183.52 L292.20,184.18 L292.40,184.84 L292.60,185.50 L292.80,186.16 L293.00,186.79 L293.20,187.39 L293.40,187.93 L293.60,188.39 L293.80,188.45 L294.00,187.71 L294.20,186.78 L294.40,185.73 L294.60,184.64 L294.80,183.53 L295.00,182.45 L295.20,181.42 L295.40,180.47 L295.60,179.63 L295.80,178.92 L296.00,178.36 L296.20,177.97 L296.40,177.74 L296.60,177.69 L296.80,177.73 L297.00,177.85 L297.20,178.03 L297.40,178.27 L297.60,178.59 L297.80,178.96 L298.00,179.40 L298.20,179.89 L298.40,180.43 L298.60,181.03 L298.80,181.66 L299.00,182.33 L299.20,183.03 L299.40,183.75 L299.60,184.48 L299.80,185.22 L300.00,185.96 L300.20,186.68 L300.40,187.37 L300.60,188.02 L300.80,188.60 L301.00,189.07 L301.20,188.94 L301.40,188.07 L301.60,187.00 L301.80,185.83 L302.00,184.62 L302.20,183.40 L302.40,182.22 L302.60,181.11 L302.80,180.09 L303.00,179.20 L303.20,178.46 L303.40,177.88 L303.60,177.49 L303.80,177.29 L304.00,177.26 L304.20,177.33 L304.40,177.47 L304.60,177.68 L304.80,177.97 L305.00,178.32 L305.20,178.74 L305.40,179.22 L305.60,179.76 L305.80,180.36 L306.00,181.00 L306.20,181.68 L306.40,182.40 L306.60,183.15 L306.80,183.91 L307.00,184.69 L307.20,185.47 L307.40,186.25 L307.60,187.00 L307.80,187.72 L308.00,188.40 L308.20,189.00 L308.40,189.47 L308.60,189.13 L308.80,188.16 L309.00,187.01 L309.20,185.76 L309.40,184.47 L309.60,183.19 L309.80,181.95 L310.00,180.79 L310.20,179.74 L310.40,178.83 L310.60,178.07 L310.80,177.50 L311.00,177.11 L311.20,176.93 L311.40,176.93 L311.60,177.01 L311.80,177.18 L312.00,177.41 L312.20,177.73 L312.40,178.11 L312.60,178.57 L312.80,179.09 L313.00,179.67 L313.20,180.30 L313.40,180.99 L313.60,181.72 L313.80,182.48 L314.00,183.27 L314.20,184.08 L314.40,184.91 L314.60,185.73 L314.80,186.54 L315.00,187.33 L315.20,188.09 L315.40,188.79 L315.60,189.40 L315.80,189.86 L316.00,189.29 L316.20,188.23 L316.40,186.99 L316.60,185.66 L316.80,184.31 L317.00,182.96 L317.20,181.67 L317.40,180.46 L317.60,179.38 L317.80,178.44 L318.00,177.68 L318.20,177.10 L318.40,176.74 L318.60,176.58 L318.80,176.60 L319.00,176.70 L319.20,176.89 L319.40,177.15 L319.60,177.50 L319.80,177.92 L320.00,178.41 L320.20,178.97 L320.40,179.59 L320.60,180.27 L320.80,181.00 L321.00,181.77 L321.20,182.58 L321.40,183.42 L321.60,184.27 L321.80,185.14 L322.00,186.00 L322.20,186.85 L322.40,187.68 L322.60,188.46 L322.80,189.19 L323.00,189.81 L323.20,190.24 L323.40,189.43 L323.60,188.27 L323.80,186.95 L324.00,185.54 L324.20,184.11 L324.40,182.71 L324.60,181.36 L324.80,180.11 L325.00,179.00 L325.20,178.04 L325.40,177.27 L325.60,176.71 L325.80,176.36 L326.00,176.24 L326.20,176.28 L326.40,176.40 L326.60,176.61 L326.80,176.90 L327.00,177.28 L327.20,177.73 L327.40,178.26 L327.60,178.86 L327.80,179.52 L328.00,180.24 L328.20,181.02 L328.40,181.83 L328.60,182.69 L328.80,183.57 L329.00,184.47 L329.20,185.38 L329.40,186.29 L329.60,187.18 L329.80,188.04 L330.00,188.85 L330.20,189.58 L330.40,190.20 L330.60,190.45 L330.80,189.49 L331.00,188.24 L331.20,186.84 L331.40,185.38 L331.60,183.91 L331.80,182.47 L332.00,181.11 L332.20,179.86 L332.40,178.76 L332.60,177.83 L332.80,177.10 L333.00,176.58 L333.20,176.28 L333.40,176.21 L333.60,176.28 L333.80,176.44 L334.00,176.68 L334.20,177.01 L334.40,177.41 L334.60,177.89 L334.80,178.44 L335.00,179.06 L335.20,179.74 L335.40,180.47 L335.60,181.25 L335.80,182.07 L336.00,182.92 L336.20,183.79 L336.40,184.67 L336.60,185.55 L336.80,186.43 L337.00,187.28 L337.20,188.10 L337.40,188.87 L337.60,189.56 L337.80,190.13 L338.00,190.16 L338.20,189.17 L338.40,187.93 L338.60,186.57 L338.80,185.15 L339.00,183.73 L339.20,182.36 L339.40,181.06 L339.60,179.88 L339.80,178.84 L340.00,177.98 L340.20,177.30 L340.40,176.84 L340.60,176.59 L340.80,176.56 L341.00,176.64 L341.20,176.81 L341.40,177.05 L341.60,177.38 L341.80,177.78 L342.00,178.26 L342.20,178.80 L342.40,179.41 L342.60,180.07 L342.80,180.79 L343.00,181.54 L343.20,182.34 L343.40,183.16 L343.60,184.00 L343.80,184.85 L344.00,185.70 L344.20,186.54 L344.40,187.36 L344.60,188.14 L344.80,188.87 L345.00,189.52 L345.20,190.05 L345.40,189.86 L345.60,188.85 L345.80,187.63 L346.00,186.31 L346.20,184.94 L346.40,183.58 L346.60,182.26 L346.80,181.03 L347.00,179.91 L347.20,178.94 L347.40,178.14 L347.60,177.52 L347.80,177.11 L348.00,176.91 L348.20,176.91 L348.40,177.00 L348.60,177.17 L348.80,177.42 L349.00,177.75 L349.20,178.15 L349.40,178.62 L349.60,179.15 L349.80,179.75 L350.00,180.40 L350.20,181.09 L350.40,181.83 L350.60,182.60 L350.80,183.39 L351.00,184.20 L351.20,185.02 L351.40,185.84 L351.60,186.65 L351.80,187.43 L352.00,188.18 L352.20,188.87 L352.40,189.47 L352.60,189.95 L352.80,189.56 L353.00,188.54 L353.20,187.35 L353.40,186.06 L353.60,184.74 L353.80,183.44 L354.00,182.18 L354.20,181.02 L354.40,179.96 L354.60,179.06 L354.80,178.31 L355.00,177.75 L355.20,177.39 L355.40,177.23 L355.60,177.25 L355.80,177.36 L356.00,177.54 L356.20,177.79 L356.40,178.12 L356.60,178.52 L356.80,178.98 L357.00,179.50 L357.20,180.08 L357.40,180.71 L357.60,181.39 L357.80,182.10 L358.00,182.85 L358.20,183.61 L358.40,184.40 L358.60,185.19 L358.80,185.97 L359.00,186.74 L359.20,187.49 L359.40,188.20 L359.60,188.85 L359.80,189.42 L360.00,189.83 L360.20,189.25 L360.40,188.24 L360.60,187.07 L360.80,185.82 L361.00,184.55 L361.20,183.31 L361.40,182.12 L361.60,181.01 L361.80,180.03 L362.00,179.19 L362.20,178.51 L362.40,178.01 L362.60,177.70 L362.80,177.58 L363.00,177.62 L363.20,177.73 L363.40,177.92 L363.60,178.17 L363.80,178.50 L364.00,178.88 L364.20,179.33 L364.40,179.84 L364.60,180.40 L364.80,181.00 L365.00,181.65 L365.20,182.33 L365.40,183.03 L365.60,183.76 L365.80,184.50 L366.00,185.24 L366.20,185.97 L366.40,186.69 L366.60,187.39 L366.80,188.04 L367.00,188.64 L367.20,189.15 L367.40,189.47 L367.60,188.76 L367.80,187.77 L368.00,186.66 L368.20,185.48 L368.40,184.30 L368.60,183.13 L368.80,182.03 L369.00,181.01 L369.20,180.11 L369.40,179.35 L369.60,178.74 L369.80,178.30 L370.00,178.04 L370.20,177.97 L370.40,178.01 L370.60,178.13 L370.80,178.32 L371.00,178.57 L371.20,178.88 L371.40,179.26 L371.60,179.69 L371.80,180.17 L372.00,180.70 L372.20,181.27 L372.40,181.88 L372.60,182.52 L372.80,183.19 L373.00,183.87 L373.20,184.56 L373.40,185.25 L373.60,185.94 L373.80,186.61 L374.00,187.25 L374.20,187.85 L374.40,188.40 L374.60,188.86 L374.80,189.02 L375.00,188.28 L375.20,187.33 L375.40,186.28 L375.60,185.18 L375.80,184.07 L376.00,182.99 L376.20,181.97 L376.40,181.04 L376.60,180.22 L376.80,179.53 L377.00,178.99 L377.20,178.61 L377.40,178.39 L377.60,178.35 L377.80,178.41 L378.00,178.53 L378.20,178.71 L378.40,178.96 L378.60,179.26 L378.80,179.62 L379.00,180.03 L379.20,180.49 L379.40,180.99 L379.60,181.53 L379.80,182.10 L380.00,182.70 L380.20,183.33 L380.40,183.96 L380.60,184.61 L380.80,185.25 L381.00,185.89 L381.20,186.51 L381.40,187.10 L381.60,187.65 L381.80,188.15 L382.00,188.55 L382.20,188.55 L382.40,187.82 L382.60,186.91 L382.80,185.92 L383.00,184.89 L383.20,183.86 L383.40,182.87 L383.60,181.93 L383.80,181.09 L384.00,180.34 L384.20,179.73 L384.40,179.25 L384.60,178.92 L384.80,178.75 L385.00,178.74 L385.20,178.80 L385.40,178.92 L385.60,179.10 L385.80,179.34 L386.00,179.63 L386.20,179.97 L386.40,180.36 L386.60,180.79 L386.80,181.27 L387.00,181.77 L387.20,182.31 L387.40,182.87 L387.60,183.45 L387.80,184.04 L388.00,184.64 L388.20,185.23 L388.40,185.82 L388.60,186.39 L388.80,186.93 L389.00,187.43 L389.20,187.88 L389.40,188.24 L389.60,188.08 L389.80,187.37 L390.00,186.51 L390.20,185.59 L390.40,184.63 L390.60,183.69 L390.80,182.78 L391.00,181.93 L391.20,181.16 L391.40,180.49 L391.60,179.94 L391.80,179.53 L392.00,179.25 L392.20,179.12 L392.40,179.12 L392.60,179.19 L392.80,179.32 L393.00,179.49 L393.20,179.72 L393.40,180.00 L393.60,180.32 L393.80,180.69 L394.00,181.09 L394.20,181.53 L394.40,182.00 L394.60,182.50 L394.80,183.02 L395.00,183.56 L395.20,184.10 L395.40,184.65 L395.60,185.20 L395.80,185.74 L396.00,186.26 L396.20,186.75 L396.40,187.20 L396.60,187.60 L396.80,187.91 L397.00,187.62 L397.20,186.94 L397.40,186.14 L397.60,185.28 L397.80,184.41 L398.00,183.54 L398.20,182.71 L398.40,181.94 L398.60,181.25 L398.80,180.66 L399.00,180.18 L399.20,179.82 L399.40,179.59 L399.60,179.49 L399.80,179.51 L400.00,179.58 L400.20,179.70 L400.40,179.86 L400.60,180.07 L400.80,180.33 L401.00,180.63 L401.20,180.97 L401.40,181.35 L401.60,181.76 L401.80,182.20 L402.00,182.66 L402.20,183.15 L402.40,183.65 L402.60,184.16 L402.80,184.68 L403.00,185.19 L403.20,185.70 L403.40,186.18 L403.60,186.65 L403.80,187.08 L404.00,187.45 L404.20,187.72 L404.40,187.33 L404.60,186.66 L404.80,185.89 L405.00,185.07 L405.20,184.23 L405.40,183.41 L405.60,182.62 L405.80,181.89 L406.00,181.24 L406.20,180.68 L406.40,180.23 L406.60,179.89 L406.80,179.68 L407.00,179.61 L407.20,179.63 L407.40,179.70 L407.60,179.82 L407.80,179.99 L408.00,180.20 L408.20,180.46 L408.40,180.76 L408.60,181.10 L408.80,181.47 L409.00,181.88 L409.20,182.31 L409.40,182.77 L409.60,183.24 L409.80,183.73 L410.00,184.23 L410.20,184.74 L410.40,185.24 L410.60,185.73 L410.80,186.20 L411.00,186.65 L411.20,187.06 L411.40,187.41 L411.60,187.62 L411.80,187.13 L412.00,186.46 L412.20,185.70 L412.40,184.89 L412.60,184.08 L412.80,183.28 L413.00,182.52 L413.20,181.82 L413.40,181.20 L413.60,180.67 L413.80,180.25 L414.00,179.94 L414.20,179.76 L414.40,179.71 L414.60,179.74 L414.80,179.81 L415.00,179.94 L415.20,180.11 L415.40,180.33 L415.60,180.59 L415.80,180.88 L416.00,181.22 L416.20,181.59 L416.40,181.99 L416.60,182.42 L416.80,182.87 L417.00,183.33 L417.20,183.81 L417.40,184.30 L417.60,184.79 L417.80,185.28 L418.00,185.75 L418.20,186.21 L418.40,186.64 L418.60,187.03 L418.80,187.36 L419.00,187.46 L419.20,186.94 L419.40,186.26 L419.60,185.51 L419.80,184.73 L420.00,183.93 L420.20,183.16 L420.40,182.43 L420.60,181.76 L420.80,181.17 L421.00,180.67 L421.20,180.28 L421.40,180.00 L421.60,179.84 L421.80,179.81 L422.00,179.85 L422.20,179.93 L422.40,180.06 L422.60,180.24 L422.80,180.45 L423.00,180.71 L423.20,181.01 L423.40,181.34 L423.60,181.71 L423.80,182.10 L424.00,182.52 L424.20,182.96 L424.40,183.42 L424.60,183.89 L424.80,184.37 L425.00,184.84 L425.20,185.32 L425.40,185.78 L425.60,186.22 L425.80,186.63 L426.00,187.00 L426.20,187.31 L426.40,187.30 L426.60,186.75 L426.80,186.08 L427.00,185.34 L427.20,184.57 L427.40,183.80 L427.60,183.05 L427.80,182.34 L428.00,181.70 L428.20,181.14 L428.40,180.68 L428.60,180.31 L428.80,180.06 L429.00,179.93 L429.20,179.92 L429.40,179.96 L429.60,180.05 L429.80,180.18 L430.00,180.36 L430.20,180.58 L430.40,180.84 L430.60,181.13 L430.80,181.46 L431.00,181.82 L431.20,182.21 L431.40,182.62 L431.60,183.06 L431.80,183.50 L432.00,183.96 L432.20,184.43 L432.40,184.89 L432.60,185.35 L432.80,185.79 L433.00,186.22 L433.20,186.62 L433.40,186.97 L433.60,187.25 L433.80,187.12 L434.00,186.56 L434.20,185.89 L434.40,185.16 L434.60,184.41 L434.80,183.67 L435.00,182.94 L435.20,182.27 L435.40,181.66 L435.60,181.13 L435.80,180.69 L436.00,180.35 L436.20,180.13 L436.40,180.02 L436.60,180.02 L436.80,180.07 L437.00,180.17 L437.20,180.30 L437.40,180.48 L437.60,180.70 L437.80,180.96 L438.00,181.25 L438.20,181.58 L438.40,181.94 L438.60,182.32 L438.80,182.72 L439.00,183.15 L439.20,183.58 L439.40,184.03 L439.60,184.48 L439.80,184.93 L440.00,185.38 L440.20,185.81 L440.40,186.22 L440.60,186.60 L440.80,186.93 L441.00,187.19 L441.20,186.94 L441.40,186.38 L441.60,185.71 L441.80,185.00 L442.00,184.27 L442.20,183.54 L442.40,182.85 L442.60,182.20 L442.80,181.62 L443.00,181.12 L443.20,180.71 L443.40,180.40 L443.60,180.20 L443.80,180.12 L444.00,180.13 L444.20,180.18 L444.40,180.28 L444.60,180.42 L444.80,180.61 L445.00,180.83 L445.20,181.08 L445.40,181.37 L445.60,181.70 L445.80,182.05 L446.00,182.42 L446.20,182.82 L446.40,183.23 L446.60,183.66 L446.80,184.09 L447.00,184.53 L447.20,184.97 L447.40,185.40 L447.60,185.82 L447.80,186.21 L448.00,186.57 L448.20,186.89 L448.40,187.11 L448.60,186.77 L448.80,186.19 L449.00,185.54 L449.20,184.84 L449.40,184.13 L449.60,183.43 L449.80,182.76 L450.00,182.14 L450.20,181.59 L450.40,181.12 L450.60,180.74 L450.80,180.46 L451.00,180.29 L451.20,180.23 L451.40,180.25 L451.60,180.32 L451.80,180.42 L452.00,180.57 L452.20,180.75 L452.40,180.97 L452.60,181.23 L452.80,181.51 L453.00,181.83 L453.20,182.17 L453.40,182.54 L453.60,182.92 L453.80,183.32 L454.00,183.73 L454.20,184.14 L454.40,184.56 L454.60,184.98 L454.80,185.38 L455.00,185.77 L455.20,186.14 L455.40,186.48 L455.60,186.76 L455.80,186.93 L456.00,186.52 L456.20,185.95 L456.40,185.32 L456.60,184.66 L456.80,183.99 L457.00,183.33 L457.20,182.71 L457.40,182.14 L457.60,181.63 L457.80,181.20 L458.00,180.86 L458.20,180.62 L458.40,180.47 L458.60,180.44 L458.80,180.46 L459.00,180.53 L459.20,180.64 L459.40,180.78 L459.60,180.96 L459.80,181.17 L460.00,181.42 L460.20,181.69 L460.40,181.99 L460.60,182.32 L460.80,182.66 L461.00,183.03 L461.20,183.40 L461.40,183.79 L461.60,184.18 L461.80,184.57 L462.00,184.96 L462.20,185.34 L462.40,185.70 L462.60,186.05 L462.80,186.35 L463.00,186.61 L463.20,186.68 L463.40,186.26 L463.60,185.71 L463.80,185.12 L464.00,184.49 L464.20,183.86 L464.40,183.25 L464.60,182.67 L464.80,182.15 L465.00,181.69 L465.20,181.30 L465.40,180.99 L465.60,180.78 L465.80,180.66 L466.00,180.64 L466.20,180.67 L466.40,180.74 L466.60,180.85 L466.80,180.99 L467.00,181.16 L467.20,181.37 L467.40,181.60 L467.60,181.86 L467.80,182.15 L468.00,182.46 L468.20,182.78 L468.40,183.13 L468.60,183.48 L468.80,183.84 L469.00,184.21 L469.20,184.58 L469.40,184.94 L469.60,185.29 L469.80,185.63 L470.00,185.94 L470.20,186.22 L470.40,186.45 L470.60,186.43 L470.80,186.00 L471.00,185.49 L471.20,184.92 L471.40,184.33 L471.60,183.75 L471.80,183.18 L472.00,182.65 L472.20,182.17 L472.40,181.75 L472.60,181.40 L472.80,181.13 L473.00,180.95 L473.20,180.85 L473.40,180.85 L473.60,180.88 L473.80,180.96 L474.00,181.06 L474.20,181.20 L474.40,181.36 L474.60,181.56 L474.80,181.78 L475.00,182.03 L475.20,182.30 L475.40,182.59 L475.60,182.90 L475.80,183.22 L476.00,183.55 L476.20,183.89 L476.40,184.23 L476.60,184.57 L476.80,184.90 L477.00,185.23 L477.20,185.54 L477.40,185.83 L477.60,186.08 L477.80,186.28 L478.00,186.17 L478.20,185.76 L478.40,185.27 L478.60,184.74 L478.80,184.19 L479.00,183.65 L479.20,183.13 L479.40,182.64 L479.60,182.21 L479.80,181.83 L480.00,181.51 L480.20,181.28 L480.40,181.12 L480.60,181.05 L480.80,181.05 L481.00,181.09 L481.20,181.17 L481.40,181.27 L481.60,181.40 L481.80,181.56 L482.00,181.75 L482.20,181.96 L482.40,182.19 L482.60,182.44 L482.80,182.72 L483.00,183.00 L483.20,183.30 L483.40,183.61 L483.60,183.92 L483.80,184.24 L484.00,184.55 L484.20,184.86 L484.40,185.16 L484.60,185.44 L484.80,185.70 L485.00,185.93 L485.20,186.11 L485.40,185.92 L485.60,185.53 L485.80,185.06 L486.00,184.57 L486.20,184.06 L486.40,183.57 L486.60,183.09 L486.80,182.65 L487.00,182.25 L487.20,181.91 L487.40,181.64 L487.60,181.43 L487.80,181.30 L488.00,181.25 L488.20,181.26 L488.40,181.30 L488.60,181.38 L488.80,181.47 L489.00,181.60 L489.20,181.75 L489.40,181.93 L489.60,182.13 L489.80,182.35 L490.00,182.58 L490.20,182.83 L490.40,183.10 L490.60,183.38 L490.80,183.66 L491.00,183.95 L491.20,184.24 L491.40,184.53 L491.60,184.81 L491.80,185.08 L492.00,185.34 L492.20,185.57 L492.40,185.78 L492.60,185.92 L492.80,185.68 L493.00,185.30 L493.20,184.87 L493.40,184.41 L493.60,183.95 L493.80,183.50 L494.00,183.07 L494.20,182.67 L494.40,182.31 L494.60,182.01 L494.80,181.77 L495.00,181.59 L495.20,181.49 L495.40,181.45 L495.60,181.47 L495.80,181.51 L496.00,181.58 L496.20,181.68 L496.40,181.80 L496.60,181.94 L496.80,182.11 L497.00,182.29 L497.20,182.49 L497.40,182.71 L497.60,182.95 L497.80,183.19 L498.00,183.44 L498.20,183.71 L498.40,183.97 L498.60,184.23 L498.80,184.50 L499.00,184.75 L499.20,185.00 L499.40,185.23 L499.60,185.44 L499.80,185.61 L500.00,185.71 L500.20,185.45 L500.40,185.10 L500.60,184.70 L500.80,184.28 L501.00,183.86 L501.20,183.44 L501.40,183.04 L501.60,182.68 L501.80,182.35 L502.00,182.08 L502.20,181.86 L502.40,181.70 L502.60,181.61 L502.80,181.58 L503.00,181.59 L503.20,181.64 L503.40,181.70 L503.60,181.79 L503.80,181.90 L504.00,182.04 L504.20,182.20 L504.40,182.37 L504.60,182.57 L504.80,182.78 L505.00,183.01 L505.20,183.25 L505.40,183.49 L505.60,183.75 L505.80,184.01 L506.00,184.27 L506.20,184.53 L506.40,184.78 L506.60,185.02 L506.80,185.25 L507.00,185.46 L507.20,185.64 L507.40,185.68 L507.60,185.39 L507.80,185.03 L508.00,184.63 L508.20,184.21 L508.40,183.78 L508.60,183.37 L508.80,182.98 L509.00,182.62 L509.20,182.30 L509.40,182.04 L509.60,181.83 L509.80,181.68 L510.00,181.60 L510.20,181.58 L510.40,181.60 L510.60,181.64 L510.80,181.71 L511.00,181.81 L511.20,181.93 L511.40,182.07 L511.60,182.23 L511.80,182.41 L512.00,182.60 L512.20,182.82 L512.40,183.05 L512.60,183.29 L512.80,183.54 L513.00,183.79 L513.20,184.05 L513.40,184.31 L513.60,184.57 L513.80,184.82 L514.00,185.06 L514.20,185.29 L514.40,185.49 L514.60,185.66 L514.80,185.64 L515.00,185.34 L515.20,184.97 L515.40,184.56 L515.60,184.14 L515.80,183.71 L516.00,183.30 L516.20,182.92 L516.40,182.56 L516.60,182.26 L516.80,182.00 L517.00,181.80 L517.20,181.66 L517.40,181.59 L517.60,181.58 L517.80,181.61 L518.00,181.65 L518.20,181.73 L518.40,181.83 L518.60,181.95 L518.80,182.09 L519.00,182.26 L519.20,182.44 L519.40,182.64 L519.60,182.86 L519.80,183.09 L520.00,183.33 L520.20,183.58 L520.40,183.84 L520.60,184.10 L520.80,184.36 L521.00,184.61 L521.20,184.86 L521.40,185.10 L521.60,185.33 L521.80,185.52 L522.00,185.68 L522.20,185.60 L522.40,185.28 L522.60,184.90 L522.80,184.49 L523.00,184.06 L523.20,183.64 L523.40,183.23 L523.60,182.85 L523.80,182.51 L524.00,182.21 L524.20,181.96 L524.40,181.77 L524.60,181.64 L524.80,181.58 L525.00,181.58 L525.20,181.61 L525.40,181.67 L525.60,181.74 L525.80,181.85 L526.00,181.97 L526.20,182.12 L526.40,182.29 L526.60,182.47 L526.80,182.68 L527.00,182.89 L527.20,183.13 L527.40,183.37 L527.60,183.62 L527.80,183.88 L528.00,184.14 L528.20,184.40 L528.40,184.66 L528.60,184.91 L528.80,185.14 L529.00,185.36 L529.20,185.56 L529.40,185.70 L529.60,185.55 L529.80,185.22 L530.00,184.83 L530.20,184.42 L530.40,183.99 L530.60,183.57 L530.80,183.17 L531.00,182.79 L531.20,182.45 L531.40,182.16 L531.60,181.92 L531.80,181.74 L532.00,181.63 L532.20,181.58 L532.40,181.59 L532.60,181.62 L532.80,181.68 L533.00,181.76 L533.20,181.87 L533.40,181.99 L533.60,182.14 L533.80,182.32 L534.00,182.51 L534.20,182.71 L534.40,182.93 L534.60,183.17 L534.80,183.41 L535.00,183.67 L535.20,183.92 L535.40,184.18 L535.60,184.44 L535.80,184.70 L536.00,184.95 L536.20,185.18 L536.40,185.40 L536.60,185.58 L536.80,185.72 L537.00,185.50 L537.20,185.15 L537.40,184.76 L537.60,184.34 L537.80,183.92 L538.00,183.50 L538.20,183.10 L538.40,182.73 L538.60,182.40 L538.80,182.12 L539.00,181.89 L539.20,181.72 L539.40,181.62 L539.60,181.58 L539.80,181.59 L540.00,181.63 L540.20,181.69 L540.40,181.78 L540.60,181.89 L540.80,182.02 L541.00,182.17 L541.20,182.35 L541.40,182.54 L541.60,182.75 L541.80,182.97 L542.00,183.21 L542.20,183.46 L542.40,183.71 L542.60,183.97 L542.80,184.23 L543.00,184.49 L543.20,184.74 L543.40,184.99 L543.60,185.22 L543.80,185.43 L544.00,185.61 L544.20,185.71 L544.40,185.44 L544.60,185.09 L544.80,184.69 L545.00,184.27 L545.20,183.85 L545.40,183.43 L545.60,183.04 L545.80,182.67 L546.00,182.35 L546.20,182.07 L546.40,181.86 L546.60,181.70 L546.80,181.61 L547.00,181.58 L547.20,181.60 L547.40,181.64 L547.60,181.70 L547.80,181.79 L548.00,181.91 L548.20,182.04 L548.40,182.20 L548.60,182.38 L548.80,182.57 L549.00,182.79 L549.20,183.01 L549.40,183.25 L549.60,183.50 L549.80,183.75 L550.00,184.01 L550.20,184.27 L550.40,184.53 L550.60,184.78 L550.80,185.03 L551.00,185.26 L551.20,185.46 L551.40,185.64 L551.60,185.67 L551.80,185.39 L552.00,185.02 L552.20,184.62 L552.40,184.20 L552.60,183.78 L552.80,183.36 L553.00,182.97 L553.20,182.61 L553.40,182.30 L553.60,182.03 L553.80,181.82 L554.00,181.68 L554.20,181.60 L554.40,181.58 L554.60,181.60 L554.80,181.65 L555.00,181.72 L555.20,181.81 L555.40,181.93 L555.60,182.07 L555.80,182.23 L556.00,182.41 L556.20,182.61 L556.40,182.82 L556.60,183.05 L556.80,183.29 L557.00,183.54 L557.20,183.80 L557.40,184.06 L557.60,184.32 L557.80,184.57 L558.00,184.83 L558.20,185.07 L558.40,185.29 L558.60,185.50 L558.80,185.66 L559.00,185.63 L559.20,185.33 L559.40,184.96 L559.60,184.55 L559.80,184.13 L560.00,183.70 L560.20,183.29 L560.40,182.91 L560.60,182.56 L560.80,182.25 L561.00,181.99 L561.20,181.80 L561.40,181.66 L561.60,181.59 L561.80,181.58 L562.00,181.61 L562.20,181.66 L562.40,181.73 L562.60,181.83 L562.80,181.95 L563.00,182.09 L563.20,182.26 L563.40,182.44 L563.60,182.64 L563.80,182.86 L564.00,183.09 L564.20,183.33 L564.40,183.58 L564.60,183.84 L564.80,184.10 L565.00,184.36 L565.20,184.62 L565.40,184.87 L565.60,185.11 L565.80,185.33 L566.00,185.53 L566.20,185.69 L566.40,185.59 L566.60,185.27 L566.80,184.89 L567.00,184.48 L567.20,184.06 L567.40,183.63 L567.60,183.23 L567.80,182.85 L568.00,182.50 L568.20,182.20 L568.40,181.96 L568.60,181.77 L568.80,181.64 L569.00,181.58 L569.20,181.58 L569.40,181.61 L569.60,181.67 L569.80,181.75 L570.00,181.85 L570.20,181.97 L570.40,182.12 L570.60,182.29 L570.80,182.48 L571.00,182.68 L571.20,182.90 L571.40,183.13 L571.60,183.38 L571.80,183.63 L572.00,183.88 L572.20,184.14 L572.40,184.40 L572.60,184.66 L572.80,184.91 L573.00,185.15 L573.20,185.37 L573.40,185.56 L573.60,185.70 L573.80,185.54 L574.00,185.21 L574.20,184.82 L574.40,184.41 L574.60,183.98 L574.80,183.56 L575.00,183.16 L575.20,182.78 L575.40,182.45 L575.60,182.16 L575.80,181.92 L576.00,181.74 L576.20,181.63 L576.40,181.58 L576.60,181.59 L576.80,181.62 L577.00,181.68 L577.20,181.76 L577.40,181.87 L577.60,182.00 L577.80,182.15 L578.00,182.32 L578.20,182.51 L578.40,182.72 L578.60,182.94 L578.80,183.17 L579.00,183.42 L579.20,183.67 L579.40,183.93 L579.60,184.19 L579.80,184.45 L580.00,184.70 L580.20,184.95 L580.40,185.19 L580.60,185.40 L580.80,185.59 L581.00,185.72 L581.20,185.49 L581.40,185.15 L581.60,184.75 L581.80,184.34 L582.00,183.91 L582.20,183.49 L582.40,183.09 L582.60,182.72 L582.80,182.39 L583.00,182.11 L583.20,181.88 L583.40,181.72 L583.60,181.62 L583.80,181.58 L584.00,181.59 L584.20,181.63 L584.40,181.69 L584.60,181.78 L584.80,181.89 L585.00,182.02 L585.20,182.18 L585.40,182.35 L585.60,182.54 L585.80,182.75 L586.00,182.98 L586.20,183.21 L586.40,183.46 L586.60,183.71 L586.80,183.97 L587.00,184.23 L587.20,184.49 L587.40,184.75 L587.60,184.99 L587.80,185.22 L588.00,185.44 L588.20,185.62 L588.40,185.70 L588.60,185.44 L588.80,185.08 L589.00,184.68 L589.20,184.26 L589.40,183.84 L589.60,183.42 L589.80,183.03 L590.00,182.67 L590.20,182.34 L590.40,182.07 L590.60,181.85 L590.80,181.70 L591.00,181.60 L591.20,181.58 L591.40,181.60 L591.60,181.64 L591.80,181.70 L592.00,181.79 L592.20,181.91 L592.40,182.05 L592.60,182.20 L592.80,182.38 L593.00,182.58 L593.20,182.79 L593.40,183.02 L593.60,183.25 L593.80,183.50 L594.00,183.76 L594.20,184.02 L594.40,184.28 L594.60,184.54 L594.80,184.79 L595.00,185.03 L595.20,185.26 L595.40,185.47 L595.60,185.64 L595.80,185.67 L596.00,185.38 L596.20,185.02 L596.40,184.61 L596.60,184.19 L596.80,183.77 L597.00,183.35 L597.20,182.96 L597.40,182.61 L597.60,182.29 L597.80,182.03 L598.00,181.82 L598.20,181.68 L598.40,181.60 L598.60,181.58 L598.80,181.60 L599.00,181.65 L599.20,181.72 L599.40,181.81 L599.60,181.93 L599.80,182.07 L600.00,182.23 L600.20,182.41 L600.40,182.61 L600.60,182.83 L600.80,183.06 L601.00,183.30 L601.20,183.55 L601.40,183.80 L601.60,184.06 L601.80,184.32 L602.00,184.58 L602.20,184.83 L602.40,185.07 L602.60,185.30 L602.80,185.50 L603.00,185.67 L603.20,185.63 L603.40,185.32 L603.60,184.95 L603.80,184.54 L604.00,184.12 L604.20,183.70 L604.40,183.29 L604.60,182.90 L604.80,182.55 L605.00,182.24 L605.20,181.99 L605.40,181.79 L605.60,181.66 L605.80,181.59 L606.00,181.58 L606.20,181.61 L606.40,181.66 L606.60,181.73 L606.80,181.83 L607.00,181.95 L607.20,182.10 L607.40,182.26 L607.60,182.45 L607.80,182.65 L608.00,182.87 L608.20,183.10 L608.40,183.34 L608.60,183.59 L608.80,183.85 L609.00,184.11 L609.20,184.37 L609.40,184.62 L609.60,184.87 L609.80,185.11 L610.00,185.33 L610.20,185.53 L610.40,185.69 L610.60,185.58 L610.80,185.26 L611.00,184.88 L611.20,184.47 L611.40,184.05 L611.60,183.63 L611.80,183.22 L612.00,182.84 L612.20,182.50 L612.40,182.20 L612.60,181.95 L612.80,181.76 L613.00,181.64 L613.20,181.58 L613.40,181.58 L613.60,181.61 L613.80,181.67 L614.00,181.75 L614.20,181.85 L614.40,181.98 L614.60,182.12 L614.80,182.29 L615.00,182.48 L615.20,182.68 L615.40,182.90 L615.60,183.14 L615.80,183.38 L616.00,183.63 L616.20,183.89 L616.40,184.15 L616.60,184.41 L616.80,184.67 L617.00,184.91 L617.20,185.15 L617.40,185.37 L617.60,185.56 L617.80,185.71 L618.00,185.54 L618.20,185.20 L618.40,184.81 L618.60,184.40 L618.80,183.97 L619.00,183.55 L619.20,183.15 L619.40,182.78 L619.60,182.44 L619.80,182.15 L620.00,181.92 L620.20,181.74 L620.40,181.63 L620.60,181.58 L620.80,181.59 L621.00,181.62 L621.20,181.68 L621.40,181.76 L621.60,181.87 L621.80,182.00 L622.00,182.15 L622.20,182.32 L622.40,182.51 L622.60,182.72 L622.80,182.94 L623.00,183.18 L623.20,183.42 L623.40,183.68 L623.60,183.93 L623.80,184.19 L624.00,184.45 L624.20,184.71 L624.40,184.96 L624.60,185.19 L624.80,185.40 L625.00,185.59 L625.20,185.72 L625.40,185.48 L625.60,185.14 L625.80,184.75 L626.00,184.33 L626.20,183.90 L626.40,183.48 L626.60,183.09 L626.80,182.72 L627.00,182.39 L627.20,182.11 L627.40,181.88 L627.60,181.72 L627.80,181.61 L628.00,181.58 L628.20,181.59 L628.40,181.63 L628.60,181.69 L628.80,181.78 L629.00,181.89 L629.20,182.02 L629.40,182.18 L629.60,182.35 L629.80,182.55 L630.00,182.76 L630.20,182.98 L630.40,183.22 L630.60,183.47 L630.80,183.72 L631.00,183.98 L631.20,184.24 L631.40,184.50 L631.60,184.75 L631.80,185.00 L632.00,185.23 L632.20,185.44 L632.40,185.62 L632.60,185.70 L632.80,185.43 L633.00,185.07 L633.20,184.68 L633.40,184.26 L633.60,183.83 L633.80,183.42 L634.00,183.02 L634.20,182.66 L634.40,182.34 L634.60,182.06 L634.80,181.85 L635.00,181.69 L635.20,181.60 L635.40,181.58 L635.60,181.60 L635.80,181.64 L636.00,181.71 L636.20,181.80 L636.40,181.91 L636.60,182.05 L636.80,182.21 L637.00,182.39 L637.20,182.58 L637.40,182.79 L637.60,183.02 L637.80,183.26 L638.00,183.51 L638.20,183.76 L638.40,184.02 L638.60,184.28 L638.80,184.54 L639.00,184.79 L639.20,185.04 L639.40,185.27 L639.60,185.47 L639.80,185.64 L640.00,185.66 L640.20,185.37 L640.40,185.01 L640.60,184.61 L640.80,184.18 L641.00,183.76 L641.20,183.35 L641.40,182.96 L641.60,182.60 L641.80,182.29 L642.00,182.02 L642.20,181.82 L642.40,181.67 L642.60,181.59 L642.80,181.58 L643.00,181.60 L643.20,181.65 L643.40,181.72 L643.60,181.81 L643.80,181.93 L644.00,182.07 L644.20,182.24 L644.40,182.42 L644.60,182.62 L644.80,182.83 L645.00,183.06 L645.20,183.30 L645.40,183.55 L645.60,183.81 L645.80,184.07 L646.00,184.33 L646.20,184.58 L646.40,184.84 L646.60,185.08 L646.80,185.30 L647.00,185.50 L647.20,185.67 L647.40,185.62 L647.60,185.32 L647.80,184.94 L648.00,184.53 L648.20,184.11 L648.40,183.69 L648.60,183.28 L648.80,182.89 L649.00,182.54 L649.20,182.24 L649.40,181.98 L649.60,181.79 L649.80,181.66 L650.00,181.59 L650.20,181.58 L650.40,181.61 L650.60,181.66 L650.80,181.73 L651.00,181.83 L651.20,181.96 L651.40,182.10 L651.60,182.27 L651.80,182.45 L652.00,182.65 L652.20,182.87 L652.40,183.10 L652.60,183.34 L652.80,183.59 L653.00,183.85 L653.20,184.11 L653.40,184.37 L653.60,184.63 L653.80,184.88 L654.00,185.12 L654.20,185.34 L654.40,185.54 L654.60,185.69 L654.80,185.58 L655.00,185.26 L655.20,184.87 L655.40,184.46 L655.60,184.04 L655.80,183.62 L656.00,183.21 L656.20,182.83 L656.40,182.49 L656.60,182.19 L656.80,181.95 L657.00,181.76 L657.20,181.64 L657.40,181.58 L657.60,181.58 L657.80,181.61 L658.00,181.67 L658.20,181.75 L658.40,181.85 L658.60,181.98 L658.80,182.13 L659.00,182.30 L659.20,182.48 L659.40,182.69 L659.60,182.91 L659.80,183.14 L660.00,183.39 L660.20,183.64 L660.40,183.89 L660.60,184.16 L660.80,184.42 L661.00,184.67 L661.20,184.92 L661.40,185.16 L661.60,185.37 L661.80,185.57 L662.00,185.71 L662.20,185.53 L662.40,185.19 L662.60,184.81 L662.80,184.39 L663.00,183.97 L663.20,183.55 L663.40,183.14 L663.60,182.77 L663.80,182.43 L664.00,182.15 L664.20,181.91 L664.40,181.74 L664.60,181.62 L664.80,181.58 L665.00,181.59 L665.20,181.62 L665.40,181.68 L665.60,181.76 L665.80,181.87 L666.00,182.00 L666.20,182.15 L666.40,182.33 L666.60,182.52 L666.80,182.72 L667.00,182.95 L667.20,183.18 L667.40,183.43 L667.60,183.68 L667.80,183.94 L668.00,184.20 L668.20,184.46 L668.40,184.71 L668.60,184.96 L668.80,185.19 L669.00,185.41 L669.20,185.59 L669.40,185.72 L669.60,185.48 L669.80,185.13 L670.00,184.74 L670.20,184.32 L670.40,183.89 L670.60,183.48 L670.80,183.08 L671.00,182.71 L671.20,182.38 L671.40,182.10 L671.60,181.88 L671.80,181.71 L672.00,181.61" stroke="#ecb43a" stroke-width="1.3" stroke-opacity="0.92"/>
</g>
<line x1="82" y1="182.3" x2="671" y2="182.3" stroke="#8a96a8" stroke-width="1" stroke-opacity="0.5"/>
<line x1="82" y1="184.9" x2="671" y2="184.9" stroke="#b8a878" stroke-width="1" stroke-opacity="0.6"/>
<line x1="82" y1="183.5" x2="671" y2="183.5" stroke="#3a372f" stroke-width="2.0"/>
<g fill="none">
<line x1="80.8" y1="11.2" x2="673" y2="11.2" stroke="#2a2a2a" stroke-width="2"/>
<line x1="81.8" y1="10.2" x2="81.8" y2="355.8" stroke="#454545" stroke-width="1.9"/>
<line x1="80.8" y1="354.7" x2="673" y2="354.7" stroke="#252525" stroke-width="2.3"/>
<line x1="672" y1="10.2" x2="672" y2="355.8" stroke="#8a8a8a" stroke-width="2.2"/>
</g>
<rect x="498.1" y="15.3" width="169.9" height="89.5" fill="#fff" stroke="#8c8c8c" stroke-width="1.8"/>
<line x1="81.3" y1="45.6" x2="502.2" y2="45.6" stroke="#c91b1b" stroke-width="2.6"/>
<line x1="81.3" y1="321.7" x2="672.9" y2="321.7" stroke="#c91b1b" stroke-width="2.6"/>
<g stroke-width="2.1">
<line x1="501.6" y1="31.1" x2="538.7" y2="31.1" stroke="#3a8fd3"/>
<line x1="501.6" y1="60.2" x2="538.7" y2="60.2" stroke="#df6a3c"/>
<line x1="501.6" y1="89.4" x2="538.7" y2="89.4" stroke="#f0b83c"/>
</g>
<g class="sans" font-size="21.6" fill="#1a1a1a">
<text transform="translate(541,40.2) scale(1,1.08)">f=50.026Hz</text>
<text transform="translate(541,69.1) scale(1,1.08)">deg=30°</text>
<text transform="translate(541,97.8) scale(1,1.08)">amp=23.6kV</text>
</g>
<g class="serif" font-size="26" fill="#111"><text x="60.4" y="18.9" text-anchor="middle">2.5</text><text x="61.8" y="54.8" text-anchor="middle">2</text><text x="60.0" y="89.1" text-anchor="middle">1.5</text><text x="61.3" y="123.2" text-anchor="middle">1</text><text x="57.5" y="154.4" text-anchor="middle">0.5</text><text x="61.3" y="190.8" text-anchor="middle">0</text><text x="55.2" y="224.4" text-anchor="middle">-0.5</text><text x="56.6" y="260.4" text-anchor="middle">-1</text><text x="55.5" y="293.8" text-anchor="middle">-1.5</text><text x="56.8" y="326.3" text-anchor="middle">-2</text><text x="53.6" y="360.5" text-anchor="middle">-2.5</text></g>
<g class="serif" font-size="27" fill="#111"><text x="117.3" y="382.6" text-anchor="middle">4</text><text x="301.9" y="382.6" text-anchor="middle">4.5</text><text x="488.4" y="382.6" text-anchor="middle">5.0</text><text x="670.3" y="382.6" text-anchor="middle">5.5</text></g>
<g class="serif" font-size="17.5" fill="#222">
<text x="209.8" y="34.3" font-size="18.8" textLength="45.6" lengthAdjust="spacingAndGlyphs">I=2kA</text>
<text x="272.2" y="338">I=-2kA</text>
</g>
<path d="M213.3,144.2 L219.7,132.3 L226.1,144.2 Z" fill="none" stroke="#222" stroke-width="1.25" stroke-linejoin="round"/>
<path d="M228.6,223.4 L235.3,212.3 L242.0,223.4 Z" fill="none" stroke="#2a2a2a" stroke-width="1.25" stroke-linejoin="round"/>
<path d="M99.5,286.4 L105.7,275.0 L111.9,286.4 Z" fill="none" stroke="#5a5a5a" stroke-width="1.25" stroke-linejoin="round"/>
<g class="serif" font-size="17.5" fill="#2a2a2a">
<text x="228.2" y="144.5"><tspan font-style="italic">deg</tspan>=33.33%</text>
<text x="243.8" y="223.7"><tspan font-style="italic">amp</tspan>=289%</text>
<text x="113.2" y="287.4" font-size="18.2" font-style="italic">f</text><text x="120.9" y="287.4" font-size="17.6">=5.2%</text>
</g>
<g class="serif" font-size="36" fill="#111">
<text x="374" y="422.5"><tspan font-style="italic">t</tspan>/s</text>
<text transform="translate(26.8,207.2) rotate(-90)"><tspan font-style="italic">I</tspan>/kA</text>
</g>
</svg>
</body></html>
